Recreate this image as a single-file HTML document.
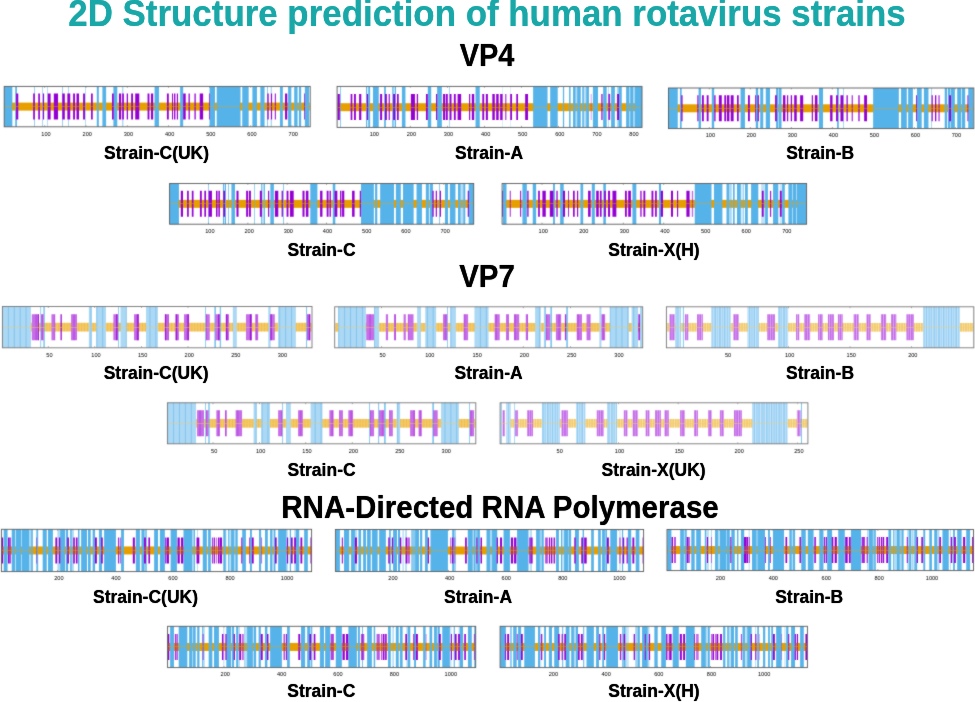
<!DOCTYPE html>
<html lang="en"><head><meta charset="utf-8"><title>2D Structure prediction of human rotavirus strains</title>
<style>
html,body{margin:0;padding:0;background:#fff;}
body{width:975px;height:702px;position:relative;overflow:hidden;font-family:"Liberation Sans",Arial,sans-serif;}
svg{position:absolute;left:0;top:0;}
svg text{font-family:"Liberation Sans",Arial,sans-serif;font-size:5.6px;fill:#000;text-anchor:middle;}
.t{position:absolute;white-space:nowrap;font-weight:bold;color:#000;line-height:1;transform:translateX(-50%);text-shadow:0 0 0.8px currentColor;}
.title{color:#19a7a7;font-size:36px;transform:translateX(-50%) scaleX(0.969);}
.h{font-size:29.2px;transform:translateX(-50%) scale(0.991,1.05);transform-origin:50% 100%;}
.h2{font-size:29.3px;transform:translateX(-50%) scale(1.009,1.05);transform-origin:50% 100%;}
.h7{font-size:29.2px;transform:translateX(-50%) scale(1.008,1.05);transform-origin:50% 100%;}
.l{font-size:17.5px;}
</style></head><body>
<svg width="975" height="702" viewBox="0 0 975 702">
<defs>
<pattern id="pw" width="2.46" height="10" patternUnits="userSpaceOnUse"><rect width="0.6" height="10" fill="#fff" opacity="0.55"/></pattern>
<pattern id="pd" width="5.9" height="10" patternUnits="userSpaceOnUse"><rect x="2" width="0.7" height="10" fill="#4aa6e6" opacity="0.6"/></pattern>
<pattern id="pp" width="6.3" height="10" patternUnits="userSpaceOnUse"><rect x="4.2" width="0.8" height="10" fill="#9400d3" opacity="0.5"/></pattern>
<pattern id="pd2" width="4.3" height="10" patternUnits="userSpaceOnUse"><rect x="1.2" width="1.1" height="10" fill="#6cbcee" opacity="0.55"/></pattern>
<pattern id="po" width="2.9" height="10" patternUnits="userSpaceOnUse"><rect width="0.6" height="10" fill="#e39c00" opacity="0.45"/></pattern>
<filter id="soft" filterUnits="userSpaceOnUse" x="0" y="0" width="975" height="702" color-interpolation-filters="sRGB"><feConvolveMatrix order="3" kernelMatrix="1 2 1 2 20 2 1 2 1" divisor="32" edgeMode="duplicate" preserveAlpha="false"/></filter>
</defs>
<rect width="975" height="702" fill="#fff"/>
<g filter="url(#soft)">
<g>
<rect x="4.2" y="86.4" width="306" height="40.4" fill="#fff"/>
<rect x="44.5" y="86.4" width="0.6" height="1.4" fill="#777"/><rect x="44.5" y="125.2" width="0.6" height="1.4" fill="#777"/>
<rect x="85.7" y="86.4" width="0.6" height="1.4" fill="#777"/><rect x="85.7" y="125.2" width="0.6" height="1.4" fill="#777"/>
<rect x="126.9" y="86.4" width="0.6" height="1.4" fill="#777"/><rect x="126.9" y="125.2" width="0.6" height="1.4" fill="#777"/>
<rect x="168.1" y="86.4" width="0.6" height="1.4" fill="#777"/><rect x="168.1" y="125.2" width="0.6" height="1.4" fill="#777"/>
<rect x="209.3" y="86.4" width="0.6" height="1.4" fill="#777"/><rect x="209.3" y="125.2" width="0.6" height="1.4" fill="#777"/>
<rect x="250.5" y="86.4" width="0.6" height="1.4" fill="#777"/><rect x="250.5" y="125.2" width="0.6" height="1.4" fill="#777"/>
<rect x="291.7" y="86.4" width="0.6" height="1.4" fill="#777"/><rect x="291.7" y="125.2" width="0.6" height="1.4" fill="#777"/>
<rect x="4.8" y="102.6" width="304.8" height="8" fill="#e79f00"/>
<path d="M4.23 86.4h8.12v40.4h-8.12zM15.23 86.4h1.69v40.4h-1.69zM34.14 86.4h0.59v40.4h-0.59zM42.22 86.4h0.51v40.4h-0.51zM47.09 86.4h0.42v40.4h-0.42zM62.07 86.4h0.59v40.4h-0.59zM68.29 86.4h0.51v40.4h-0.51zM85.34 86.4h0.42v40.4h-0.42zM96.8 86.4h2.03v40.4h-2.03zM102.39 86.4h3.72v40.4h-3.72zM113.39 86.4h3.89v40.4h-3.89zM122.52 86.4h0.68v40.4h-0.68zM154.57 86.4h4.4v40.4h-4.4zM180.12 86.4h3.05v40.4h-3.05zM209.57 86.4h5.42v40.4h-5.42zM216.68 86.4h23.86v40.4h-23.86zM242.23 86.4h6.43v40.4h-6.43zM252.39 86.4h4.57v40.4h-4.57zM260.34 86.4h4.23v40.4h-4.23zM267.11 86.4h0.68v40.4h-0.68zM270.83 86.4h0.68v40.4h-0.68zM279.97 86.4h2.88v40.4h-2.88zM288.09 86.4h3.22v40.4h-3.22zM294.19 86.4h3.38v40.4h-3.38zM298.93 86.4h2.2v40.4h-2.2zM304.85 86.4h4.23v40.4h-4.23z" fill="#56b3e9"/>
<path d="M16.08 93.6h2.2v26h-2.2zM33.17 93.6h1.69v26h-1.69zM38.25 93.6h1.69v26h-1.69zM42.92 93.6h1.15v26h-1.15zM47.72 93.6h2.88v26h-2.88zM53.82 93.6h4.23v26h-4.23zM62.28 93.6h2.54v26h-2.54zM67.35 93.6h2.88v26h-2.88zM73.11 93.6h1.86v26h-1.86zM76.49 93.6h2.54v26h-2.54zM83.09 93.6h1.86v26h-1.86zM91.05 93.6h1.69v26h-1.69zM112.03 93.6h1.69v26h-1.69zM118.97 93.6h2.2v26h-2.2zM122.19 93.6h1.69v26h-1.69zM126.7 93.6h1.29v26h-1.29zM131.16 93.6h1.86v26h-1.86zM135.22 93.6h4.06v26h-4.06zM147.57 93.6h1.86v26h-1.86zM150.96 93.6h2.2v26h-2.2zM166.92 93.6h1.86v26h-1.86zM172 93.6h1.02v26h-1.02zM174.03 93.6h1.35v26h-1.35zM176.84 93.6h1.15v26h-1.15zM183.17 93.6h2.54v26h-2.54zM188.53 93.6h1.29v26h-1.29zM194.45 93.6h1.29v26h-1.29zM199.75 93.6h3.38v26h-3.38zM208.96 93.6h0.72v26h-0.72zM267.39 93.6h1.29v26h-1.29zM270.93 93.6h1.15v26h-1.15zM274.81 93.6h1.01v26h-1.01zM285.05 93.6h2.2v26h-2.2zM304.07 93.6h0.72v26h-0.72z" fill="#9400d3"/>
<path d="M16.08 102.6h2.2v8h-2.2zM33.17 102.6h1.69v8h-1.69zM38.25 102.6h1.69v8h-1.69zM42.92 102.6h1.15v8h-1.15zM47.72 102.6h2.88v8h-2.88zM53.82 102.6h4.23v8h-4.23zM62.28 102.6h2.54v8h-2.54zM67.35 102.6h2.88v8h-2.88zM73.11 102.6h1.86v8h-1.86zM76.49 102.6h2.54v8h-2.54zM83.09 102.6h1.86v8h-1.86zM91.05 102.6h1.69v8h-1.69zM112.03 102.6h1.69v8h-1.69zM118.97 102.6h2.2v8h-2.2zM122.19 102.6h1.69v8h-1.69zM126.7 102.6h1.29v8h-1.29zM131.16 102.6h1.86v8h-1.86zM135.22 102.6h4.06v8h-4.06zM147.57 102.6h1.86v8h-1.86zM150.96 102.6h2.2v8h-2.2zM166.92 102.6h1.86v8h-1.86zM172 102.6h1.02v8h-1.02zM174.03 102.6h1.35v8h-1.35zM176.84 102.6h1.15v8h-1.15zM183.17 102.6h2.54v8h-2.54zM188.53 102.6h1.29v8h-1.29zM194.45 102.6h1.29v8h-1.29zM199.75 102.6h3.38v8h-3.38zM208.96 102.6h0.72v8h-0.72zM267.39 102.6h1.29v8h-1.29zM270.93 102.6h1.15v8h-1.15zM274.81 102.6h1.01v8h-1.01zM285.05 102.6h2.2v8h-2.2zM304.07 102.6h0.72v8h-0.72z" fill="#e79f00" opacity="0.04"/>
<rect x="4.2" y="106.22" width="306" height="0.56" fill="#e79f00" opacity="0.8"/>
<rect x="4.2" y="86.4" width="306" height="40.4" fill="none" stroke="#5a5a5a" stroke-width="0.9"/>
<text x="46" y="135.9">100</text>
<text x="87.2" y="135.9">200</text>
<text x="128.4" y="135.9">300</text>
<text x="169.6" y="135.9">400</text>
<text x="210.8" y="135.9">500</text>
<text x="252" y="135.9">600</text>
<text x="293.2" y="135.9">700</text>
</g>
<g>
<rect x="337.1" y="86.4" width="304.9" height="41" fill="#fff"/>
<rect x="372.8" y="86.4" width="0.6" height="1.4" fill="#777"/><rect x="372.8" y="125.8" width="0.6" height="1.4" fill="#777"/>
<rect x="409.9" y="86.4" width="0.6" height="1.4" fill="#777"/><rect x="409.9" y="125.8" width="0.6" height="1.4" fill="#777"/>
<rect x="447" y="86.4" width="0.6" height="1.4" fill="#777"/><rect x="447" y="125.8" width="0.6" height="1.4" fill="#777"/>
<rect x="484.1" y="86.4" width="0.6" height="1.4" fill="#777"/><rect x="484.1" y="125.8" width="0.6" height="1.4" fill="#777"/>
<rect x="521.2" y="86.4" width="0.6" height="1.4" fill="#777"/><rect x="521.2" y="125.8" width="0.6" height="1.4" fill="#777"/>
<rect x="558.3" y="86.4" width="0.6" height="1.4" fill="#777"/><rect x="558.3" y="125.8" width="0.6" height="1.4" fill="#777"/>
<rect x="595.4" y="86.4" width="0.6" height="1.4" fill="#777"/><rect x="595.4" y="125.8" width="0.6" height="1.4" fill="#777"/>
<rect x="632.5" y="86.4" width="0.6" height="1.4" fill="#777"/><rect x="632.5" y="125.8" width="0.6" height="1.4" fill="#777"/>
<rect x="337.7" y="103.2" width="303.7" height="8" fill="#e79f00"/>
<path d="M340.15 86.4h0.68v41h-0.68zM366.05 86.4h1.18v41h-1.18zM368.25 86.4h1.86v41h-1.86zM372.99 86.4h5.75v41h-5.75zM384.15 86.4h1.69v41h-1.69zM392.28 86.4h1.35v41h-1.35zM394.65 86.4h1.35v41h-1.35zM401.92 86.4h3.55v41h-3.55zM427.82 86.4h3.38v41h-3.38zM437.12 86.4h4.74v41h-4.74zM449.06 86.4h0.51v41h-0.51zM475.54 86.4h4.23v41h-4.23zM533.11 86.4h14.44v41h-14.44zM550.18 86.4h7.55v41h-7.55zM562.9 86.4h1.23v41h-1.23zM569.1 86.4h1.48v41h-1.48zM573.04 86.4h2.63v41h-2.63zM577.14 86.4h3.61v41h-3.61zM582.23 86.4h1.64v41h-1.64zM586.17 86.4h2.79v41h-2.79zM592.9 86.4h5.09v41h-5.09zM603.15 86.4h3.53v41h-3.53zM611.11 86.4h3.77v41h-3.77zM618.33 86.4h3.45v41h-3.45zM626.13 86.4h2.87v41h-2.87zM630.23 86.4h2.87v41h-2.87zM634.74 86.4h7.22v41h-7.22z" fill="#56b3e9"/>
<path d="M575.91 86.4h0.98v41h-0.98zM584.28 86.4h1.64v41h-1.64zM608.08 86.4h0.82v41h-0.82zM616.86 86.4h1.07v41h-1.07zM629 86.4h1.23v41h-1.23zM633.1 86.4h1.64v41h-1.64z" fill="#56b3e9" opacity="0.5"/>
<path d="M502.18 86.4h0.66v41h-0.66zM510.14 86.4h0.66v41h-0.66z" fill="#56b3e9" opacity="0.3"/>
<path d="M337.62 93.9h2.2v26h-2.2zM350.65 93.9h1.69v26h-1.69zM354.03 93.9h1.86v26h-1.86zM359.11 93.9h2.2v26h-2.2zM366.84 93.9h1.29v26h-1.29zM380.09 93.9h2.03v26h-2.03zM385 93.9h1.86v26h-1.86zM388.66 93.9h1.15v26h-1.15zM393.12 93.9h2.03v26h-2.03zM397.02 93.9h1.69v26h-1.69zM410.89 93.9h4.06v26h-4.06zM416.76 93.9h1.29v26h-1.29zM425.96 93.9h1.86v26h-1.86zM436.04 93.9h1.15v26h-1.15zM443.05 93.9h2.03v26h-2.03zM445.76 93.9h2.03v26h-2.03zM449.65 93.9h1.86v26h-1.86zM453.88 93.9h1.86v26h-1.86zM457.6 93.9h3.55v26h-3.55zM469.04 93.9h1.15v26h-1.15zM471.82 93.9h2.37v26h-2.37zM482.31 93.9h1.86v26h-1.86zM485.86 93.9h2.03v26h-2.03zM487 93.9h0.82v26h-0.82zM492.33 93.9h2.46v26h-2.46zM496.19 93.9h2.46v26h-2.46zM500.13 93.9h2.46v26h-2.46zM510.22 93.9h1.81v26h-1.81zM516.29 93.9h1.72v26h-1.72zM525.15 93.9h2.87v26h-2.87zM617.1 93.9h1.89v26h-1.89z" fill="#9400d3"/>
<path d="M608.32 93.9h1.81v26h-1.81z" fill="#9400d3" opacity="0.9"/>
<path d="M601.1 93.9h1.64v26h-1.64z" fill="#9400d3" opacity="0.75"/>
<path d="M505.05 93.9h1.39v26h-1.39z" fill="#9400d3" opacity="0.7"/>
<path d="M590.6 93.9h1.31v26h-1.31z" fill="#9400d3" opacity="0.3"/>
<path d="M337.62 103.2h2.2v8h-2.2zM350.65 103.2h1.69v8h-1.69zM354.03 103.2h1.86v8h-1.86zM359.11 103.2h2.2v8h-2.2zM366.84 103.2h1.29v8h-1.29zM380.09 103.2h2.03v8h-2.03zM385 103.2h1.86v8h-1.86zM388.66 103.2h1.15v8h-1.15zM393.12 103.2h2.03v8h-2.03zM397.02 103.2h1.69v8h-1.69zM410.89 103.2h4.06v8h-4.06zM416.76 103.2h1.29v8h-1.29zM425.96 103.2h1.86v8h-1.86zM436.04 103.2h1.15v8h-1.15zM443.05 103.2h2.03v8h-2.03zM445.76 103.2h2.03v8h-2.03zM449.65 103.2h1.86v8h-1.86zM453.88 103.2h1.86v8h-1.86zM457.6 103.2h3.55v8h-3.55zM469.04 103.2h1.15v8h-1.15zM471.82 103.2h2.37v8h-2.37zM482.31 103.2h1.86v8h-1.86zM485.86 103.2h2.03v8h-2.03zM487 103.2h0.82v8h-0.82zM492.33 103.2h2.46v8h-2.46zM496.19 103.2h2.46v8h-2.46zM500.13 103.2h2.46v8h-2.46zM505.05 103.2h1.39v8h-1.39zM510.22 103.2h1.81v8h-1.81zM516.29 103.2h1.72v8h-1.72zM525.15 103.2h2.87v8h-2.87zM590.6 103.2h1.31v8h-1.31zM601.1 103.2h1.64v8h-1.64zM608.32 103.2h1.81v8h-1.81zM617.1 103.2h1.89v8h-1.89z" fill="#e79f00" opacity="0.04"/>
<rect x="337.1" y="107.22" width="304.9" height="0.56" fill="#e79f00" opacity="0.8"/>
<rect x="337.1" y="86.4" width="304.9" height="41" fill="none" stroke="#5a5a5a" stroke-width="0.9"/>
<text x="374.3" y="135.9">100</text>
<text x="411.4" y="135.9">200</text>
<text x="448.5" y="135.9">300</text>
<text x="485.6" y="135.9">400</text>
<text x="522.7" y="135.9">500</text>
<text x="559.8" y="135.9">600</text>
<text x="596.9" y="135.9">700</text>
<text x="634" y="135.9">800</text>
</g>
<g>
<rect x="668.5" y="88" width="305.3" height="40.6" fill="#fff"/>
<rect x="708.9" y="88" width="0.6" height="1.4" fill="#777"/><rect x="708.9" y="127" width="0.6" height="1.4" fill="#777"/>
<rect x="749.9" y="88" width="0.6" height="1.4" fill="#777"/><rect x="749.9" y="127" width="0.6" height="1.4" fill="#777"/>
<rect x="790.9" y="88" width="0.6" height="1.4" fill="#777"/><rect x="790.9" y="127" width="0.6" height="1.4" fill="#777"/>
<rect x="831.9" y="88" width="0.6" height="1.4" fill="#777"/><rect x="831.9" y="127" width="0.6" height="1.4" fill="#777"/>
<rect x="872.9" y="88" width="0.6" height="1.4" fill="#777"/><rect x="872.9" y="127" width="0.6" height="1.4" fill="#777"/>
<rect x="913.9" y="88" width="0.6" height="1.4" fill="#777"/><rect x="913.9" y="127" width="0.6" height="1.4" fill="#777"/>
<rect x="954.9" y="88" width="0.6" height="1.4" fill="#777"/><rect x="954.9" y="127" width="0.6" height="1.4" fill="#777"/>
<rect x="669.1" y="104.3" width="304.1" height="8" fill="#e79f00"/>
<path d="M668.5 88h9.27v40.6h-9.27zM679.97 88h1.69v40.6h-1.69zM698.59 88h2.37v40.6h-2.37zM711.79 88h2.37v40.6h-2.37zM740.56 88h4.4v40.6h-4.4zM755.79 88h2.37v40.6h-2.37zM760.19 88h3.05v40.6h-3.05zM765.77 88h4.23v40.6h-4.23zM776.09 88h2.37v40.6h-2.37zM778.97 88h2.54v40.6h-2.54zM818.97 88h4.06v40.6h-4.06zM837.08 88h1.69v40.6h-1.69zM843.09 88h0.51v40.6h-0.51zM873.12 88h25.72v40.6h-25.72zM901.05 88h5.75v40.6h-5.75zM908.16 88h4.74v40.6h-4.74zM916.96 88h4.74v40.6h-4.74zM923.89 88h4.57v40.6h-4.57zM931.09 88h0.51v40.6h-0.51zM944.71 88h2.37v40.6h-2.37zM947.93 88h2.54v40.6h-2.54zM950.97 88h3.89v40.6h-3.89zM957.23 88h3.89v40.6h-3.89zM961.8 88h3.38v40.6h-3.38zM968.23 88h5.08v40.6h-5.08z" fill="#56b3e9"/>
<path d="M681.27 95.3h1.29v26h-1.29zM697.33 95.3h1.15v26h-1.15zM701.97 95.3h1.86v26h-1.86zM706.71 95.3h1.86v26h-1.86zM714.27 95.3h1.29v26h-1.29zM718.89 95.3h2.88v26h-2.88zM724.31 95.3h1.69v26h-1.69zM726.85 95.3h2.54v26h-2.54zM730.74 95.3h2.88v26h-2.88zM737 95.3h1.69v26h-1.69zM748 95.3h1.86v26h-1.86zM755.19 95.3h0.86v26h-0.86zM757.59 95.3h1.29v26h-1.29zM775.08 95.3h1.69v26h-1.69zM783.03 95.3h2.37v26h-2.37zM787.03 95.3h1.15v26h-1.15zM790.76 95.3h1.29v26h-1.29zM794.2 95.3h2.54v26h-2.54zM800.13 95.3h3.05v26h-3.05zM811.79 95.3h1.15v26h-1.15zM814.91 95.3h2.54v26h-2.54zM830.14 95.3h2.37v26h-2.37zM836.06 95.3h1.86v26h-1.86zM840.46 95.3h2.88v26h-2.88zM846.5 95.3h1.29v26h-1.29zM851.72 95.3h1.01v26h-1.01zM858.35 95.3h1.29v26h-1.29zM864.15 95.3h2.88v26h-2.88zM916.02 95.3h0.86v26h-0.86zM931.61 95.3h1.15v26h-1.15zM935.01 95.3h1.29v26h-1.29zM938.54 95.3h1.01v26h-1.01zM949.11 95.3h1.86v26h-1.86zM967.46 95.3h0.86v26h-0.86z" fill="#9400d3"/>
<path d="M681.27 104.3h1.29v8h-1.29zM697.33 104.3h1.15v8h-1.15zM701.97 104.3h1.86v8h-1.86zM706.71 104.3h1.86v8h-1.86zM714.27 104.3h1.29v8h-1.29zM718.89 104.3h2.88v8h-2.88zM724.31 104.3h1.69v8h-1.69zM726.85 104.3h2.54v8h-2.54zM730.74 104.3h2.88v8h-2.88zM737 104.3h1.69v8h-1.69zM748 104.3h1.86v8h-1.86zM755.19 104.3h0.86v8h-0.86zM757.59 104.3h1.29v8h-1.29zM775.08 104.3h1.69v8h-1.69zM783.03 104.3h2.37v8h-2.37zM787.03 104.3h1.15v8h-1.15zM790.76 104.3h1.29v8h-1.29zM794.2 104.3h2.54v8h-2.54zM800.13 104.3h3.05v8h-3.05zM811.79 104.3h1.15v8h-1.15zM814.91 104.3h2.54v8h-2.54zM830.14 104.3h2.37v8h-2.37zM836.06 104.3h1.86v8h-1.86zM840.46 104.3h2.88v8h-2.88zM846.5 104.3h1.29v8h-1.29zM851.72 104.3h1.01v8h-1.01zM858.35 104.3h1.29v8h-1.29zM864.15 104.3h2.88v8h-2.88zM916.02 104.3h0.86v8h-0.86zM931.61 104.3h1.15v8h-1.15zM935.01 104.3h1.29v8h-1.29zM938.54 104.3h1.01v8h-1.01zM949.11 104.3h1.86v8h-1.86zM967.46 104.3h0.86v8h-0.86z" fill="#e79f00" opacity="0.04"/>
<rect x="668.5" y="108.22" width="305.3" height="0.56" fill="#e79f00" opacity="0.8"/>
<rect x="668.5" y="88" width="305.3" height="40.6" fill="none" stroke="#5a5a5a" stroke-width="0.9"/>
<text x="710.4" y="137.2">100</text>
<text x="751.4" y="137.2">200</text>
<text x="792.4" y="137.2">300</text>
<text x="833.4" y="137.2">400</text>
<text x="874.4" y="137.2">500</text>
<text x="915.4" y="137.2">600</text>
<text x="956.4" y="137.2">700</text>
</g>
<g>
<rect x="169.6" y="183.5" width="304.1" height="40.7" fill="#fff"/>
<rect x="208.4" y="183.5" width="0.6" height="1.4" fill="#777"/><rect x="208.4" y="222.6" width="0.6" height="1.4" fill="#777"/>
<rect x="247.6" y="183.5" width="0.6" height="1.4" fill="#777"/><rect x="247.6" y="222.6" width="0.6" height="1.4" fill="#777"/>
<rect x="286.8" y="183.5" width="0.6" height="1.4" fill="#777"/><rect x="286.8" y="222.6" width="0.6" height="1.4" fill="#777"/>
<rect x="326" y="183.5" width="0.6" height="1.4" fill="#777"/><rect x="326" y="222.6" width="0.6" height="1.4" fill="#777"/>
<rect x="365.2" y="183.5" width="0.6" height="1.4" fill="#777"/><rect x="365.2" y="222.6" width="0.6" height="1.4" fill="#777"/>
<rect x="404.4" y="183.5" width="0.6" height="1.4" fill="#777"/><rect x="404.4" y="222.6" width="0.6" height="1.4" fill="#777"/>
<rect x="443.6" y="183.5" width="0.6" height="1.4" fill="#777"/><rect x="443.6" y="222.6" width="0.6" height="1.4" fill="#777"/>
<rect x="170.2" y="199.85" width="302.9" height="8" fill="#e79f00"/>
<path d="M169.65 183.5h9.31v40.7h-9.31zM208.19 183.5h0.59v40.7h-0.59zM222.95 183.5h1.02v40.7h-1.02zM224.65 183.5h1.35v40.7h-1.35zM228.03 183.5h0.68v40.7h-0.68zM231.42 183.5h3.55v40.7h-3.55zM254.22 183.5h0.59v40.7h-0.59zM261.2 183.5h1.18v40.7h-1.18zM263.57 183.5h1.35v40.7h-1.35zM270.34 183.5h3.55v40.7h-3.55zM283.2 183.5h0.68v40.7h-0.68zM310.28 183.5h7.11v40.7h-7.11zM332.77 183.5h2.54v40.7h-2.54zM361.03 183.5h12.86v40.7h-12.86zM375.08 183.5h2.2v40.7h-2.2zM380.15 183.5h13.88v40.7h-13.88zM395.89 183.5h4.91v40.7h-4.91zM403 183.5h10.66v40.7h-10.66zM416.54 183.5h5.42v40.7h-5.42zM425.85 183.5h3.05v40.7h-3.05zM429.74 183.5h3.22v40.7h-3.22zM439.22 183.5h0.68v40.7h-0.68zM444.97 183.5h3.05v40.7h-3.05zM449.88 183.5h5.58v40.7h-5.58zM458 183.5h2.71v40.7h-2.71zM463.25 183.5h2.03v40.7h-2.03zM468.66 183.5h5.04v40.7h-5.04z" fill="#56b3e9"/>
<path d="M461.22 183.5h1.69v40.7h-1.69z" fill="#56b3e9" opacity="0.5"/>
<path d="M180.82 190.85h2.2v26h-2.2zM187.08 190.85h1.69v26h-1.69zM191.82 190.85h1.69v26h-1.69zM199.94 190.85h1.86v26h-1.86zM204.34 190.85h1.69v26h-1.69zM208.57 190.85h3.38v26h-3.38zM216.02 190.85h1.52v26h-1.52zM218.39 190.85h1.52v26h-1.52zM223.29 190.85h1.69v26h-1.69zM236.49 190.85h2.03v26h-2.03zM246.14 190.85h2.03v26h-2.03zM249.02 190.85h1.86v26h-1.86zM259.85 190.85h2.03v26h-2.03zM268.07 190.85h1.15v26h-1.15zM274.91 190.85h3.38v26h-3.38zM281.62 190.85h1.29v26h-1.29zM286.59 190.85h1.86v26h-1.86zM289.97 190.85h3.72v26h-3.72zM302.49 190.85h2.03v26h-2.03zM305.88 190.85h2.54v26h-2.54zM320.08 190.85h2.37v26h-2.37zM326.68 190.85h1.86v26h-1.86zM329.55 190.85h1.35v26h-1.35zM334.63 190.85h2.71v26h-2.71zM340.05 190.85h1.35v26h-1.35zM342.08 190.85h2.2v26h-2.2zM352.06 190.85h2.54v26h-2.54zM359.78 190.85h1.15v26h-1.15zM432.39 190.85h1.29v26h-1.29zM435.76 190.85h1.15v26h-1.15zM439.83 190.85h1.15v26h-1.15zM467.75 190.85h1.15v26h-1.15z" fill="#9400d3"/>
<path d="M180.82 199.85h2.2v8h-2.2zM187.08 199.85h1.69v8h-1.69zM191.82 199.85h1.69v8h-1.69zM199.94 199.85h1.86v8h-1.86zM204.34 199.85h1.69v8h-1.69zM208.57 199.85h3.38v8h-3.38zM216.02 199.85h1.52v8h-1.52zM218.39 199.85h1.52v8h-1.52zM223.29 199.85h1.69v8h-1.69zM236.49 199.85h2.03v8h-2.03zM246.14 199.85h2.03v8h-2.03zM249.02 199.85h1.86v8h-1.86zM259.85 199.85h2.03v8h-2.03zM268.07 199.85h1.15v8h-1.15zM274.91 199.85h3.38v8h-3.38zM281.62 199.85h1.29v8h-1.29zM286.59 199.85h1.86v8h-1.86zM289.97 199.85h3.72v8h-3.72zM302.49 199.85h2.03v8h-2.03zM305.88 199.85h2.54v8h-2.54zM320.08 199.85h2.37v8h-2.37zM326.68 199.85h1.86v8h-1.86zM329.55 199.85h1.35v8h-1.35zM334.63 199.85h2.71v8h-2.71zM340.05 199.85h1.35v8h-1.35zM342.08 199.85h2.2v8h-2.2zM352.06 199.85h2.54v8h-2.54zM359.78 199.85h1.15v8h-1.15zM432.39 199.85h1.29v8h-1.29zM435.76 199.85h1.15v8h-1.15zM439.83 199.85h1.15v8h-1.15zM467.75 199.85h1.15v8h-1.15z" fill="#e79f00" opacity="0.04"/>
<rect x="169.6" y="203.22" width="304.1" height="0.56" fill="#e79f00" opacity="0.8"/>
<rect x="169.6" y="183.5" width="304.1" height="40.7" fill="none" stroke="#5a5a5a" stroke-width="0.9"/>
<text x="209.9" y="232.9">100</text>
<text x="249.1" y="232.9">200</text>
<text x="288.3" y="232.9">300</text>
<text x="327.5" y="232.9">400</text>
<text x="366.7" y="232.9">500</text>
<text x="405.9" y="232.9">600</text>
<text x="445.1" y="232.9">700</text>
</g>
<g>
<rect x="502.1" y="183.5" width="304.5" height="40.7" fill="#fff"/>
<rect x="541.7" y="183.5" width="0.6" height="1.4" fill="#777"/><rect x="541.7" y="222.6" width="0.6" height="1.4" fill="#777"/>
<rect x="582.3" y="183.5" width="0.6" height="1.4" fill="#777"/><rect x="582.3" y="222.6" width="0.6" height="1.4" fill="#777"/>
<rect x="622.9" y="183.5" width="0.6" height="1.4" fill="#777"/><rect x="622.9" y="222.6" width="0.6" height="1.4" fill="#777"/>
<rect x="663.5" y="183.5" width="0.6" height="1.4" fill="#777"/><rect x="663.5" y="222.6" width="0.6" height="1.4" fill="#777"/>
<rect x="704.1" y="183.5" width="0.6" height="1.4" fill="#777"/><rect x="704.1" y="222.6" width="0.6" height="1.4" fill="#777"/>
<rect x="744.7" y="183.5" width="0.6" height="1.4" fill="#777"/><rect x="744.7" y="222.6" width="0.6" height="1.4" fill="#777"/>
<rect x="785.3" y="183.5" width="0.6" height="1.4" fill="#777"/><rect x="785.3" y="222.6" width="0.6" height="1.4" fill="#777"/>
<rect x="502.7" y="199.85" width="303.3" height="8" fill="#e79f00"/>
<path d="M502.95 183.5h3.55v40.7h-3.55zM522.42 183.5h4.4v40.7h-4.4zM532.74 183.5h3.38v40.7h-3.38zM553.05 183.5h1.86v40.7h-1.86zM560.15 183.5h3.55v40.7h-3.55zM580.46 183.5h2.71v40.7h-2.71zM591.8 183.5h3.05v40.7h-3.05zM603.31 183.5h2.54v40.7h-2.54zM632.42 183.5h3.89v40.7h-3.89zM658.97 183.5h2.03v40.7h-2.03zM694.76 183.5h16.74v40.7h-16.74zM713.96 183.5h8.45v40.7h-8.45zM726.51 183.5h2.46v40.7h-2.46zM733.04 183.5h1.64v40.7h-1.64zM736.97 183.5h3.86v40.7h-3.86zM743.13 183.5h0.57v40.7h-0.57zM745.02 183.5h2.79v40.7h-2.79zM751.09 183.5h7.22v40.7h-7.22zM765.12 183.5h2.79v40.7h-2.79zM773.08 183.5h4.92v40.7h-4.92zM782.1 183.5h2.71v40.7h-2.71zM788.42 183.5h3.69v40.7h-3.69zM792.61 183.5h3.61v40.7h-3.61zM796.71 183.5h9.89v40.7h-9.89z" fill="#56b3e9"/>
<path d="M728.97 183.5h1.03v40.7h-1.03zM730 183.5h1.81v40.7h-1.81zM778.41 183.5h0.82v40.7h-0.82z" fill="#56b3e9" opacity="0.5"/>
<path d="M761.18 183.5h3.69v40.7h-3.69zM780.22 183.5h1.48v40.7h-1.48z" fill="#56b3e9" opacity="0.4"/>
<path d="M741.24 183.5h1.64v40.7h-1.64z" fill="#56b3e9" opacity="0.3"/>
<path d="M502.18 190.85h0.86v26h-0.86zM509.8 190.85h0.86v26h-0.86zM520.14 190.85h1.01v26h-1.01zM527.27 190.85h1.29v26h-1.29zM538.15 190.85h1.69v26h-1.69zM542.39 190.85h3.38v26h-3.38zM549.83 190.85h3.55v26h-3.55zM556.38 190.85h1.29v26h-1.29zM563.03 190.85h2.03v26h-2.03zM568.18 190.85h0.86v26h-0.86zM573.02 190.85h1.69v26h-1.69zM577.01 190.85h1.15v26h-1.15zM588.08 190.85h2.54v26h-2.54zM596.2 190.85h2.54v26h-2.54zM599.92 190.85h1.69v26h-1.69zM604.16 190.85h1.69v26h-1.69zM608.05 190.85h2.03v26h-2.03zM612.45 190.85h3.89v26h-3.89zM624.97 190.85h1.86v26h-1.86zM628.19 190.85h2.71v26h-2.71zM640.32 190.85h1.29v26h-1.29zM643.42 190.85h1.86v26h-1.86zM651.52 190.85h1.86v26h-1.86zM655.08 190.85h1.69v26h-1.69zM660.83 190.85h2.2v26h-2.2zM670.98 190.85h2.03v26h-2.03zM677.01 190.85h1.15v26h-1.15zM686.39 190.85h3.22v26h-3.22zM761.84 190.85h1.81v26h-1.81zM779.89 190.85h1.81v26h-1.81z" fill="#9400d3"/>
<path d="M769.96 190.85h1.23v26h-1.23z" fill="#9400d3" opacity="0.9"/>
<path d="M691.81 190.85h1.31v26h-1.31z" fill="#9400d3" opacity="0.6"/>
<path d="M502.18 199.85h0.86v8h-0.86zM509.8 199.85h0.86v8h-0.86zM520.14 199.85h1.01v8h-1.01zM527.27 199.85h1.29v8h-1.29zM538.15 199.85h1.69v8h-1.69zM542.39 199.85h3.38v8h-3.38zM549.83 199.85h3.55v8h-3.55zM556.38 199.85h1.29v8h-1.29zM563.03 199.85h2.03v8h-2.03zM568.18 199.85h0.86v8h-0.86zM573.02 199.85h1.69v8h-1.69zM577.01 199.85h1.15v8h-1.15zM588.08 199.85h2.54v8h-2.54zM596.2 199.85h2.54v8h-2.54zM599.92 199.85h1.69v8h-1.69zM604.16 199.85h1.69v8h-1.69zM608.05 199.85h2.03v8h-2.03zM612.45 199.85h3.89v8h-3.89zM624.97 199.85h1.86v8h-1.86zM628.19 199.85h2.71v8h-2.71zM640.32 199.85h1.29v8h-1.29zM643.42 199.85h1.86v8h-1.86zM651.52 199.85h1.86v8h-1.86zM655.08 199.85h1.69v8h-1.69zM660.83 199.85h2.2v8h-2.2zM670.98 199.85h2.03v8h-2.03zM677.01 199.85h1.15v8h-1.15zM686.39 199.85h3.22v8h-3.22zM691.81 199.85h1.31v8h-1.31zM761.84 199.85h1.81v8h-1.81zM769.96 199.85h1.23v8h-1.23zM779.89 199.85h1.81v8h-1.81z" fill="#e79f00" opacity="0.04"/>
<rect x="502.1" y="203.22" width="304.5" height="0.56" fill="#e79f00" opacity="0.8"/>
<rect x="502.1" y="183.5" width="304.5" height="40.7" fill="none" stroke="#5a5a5a" stroke-width="0.9"/>
<text x="543.2" y="232.9">100</text>
<text x="583.8" y="232.9">200</text>
<text x="624.4" y="232.9">300</text>
<text x="665" y="232.9">400</text>
<text x="705.6" y="232.9">500</text>
<text x="746.2" y="232.9">600</text>
<text x="786.8" y="232.9">700</text>
</g>
<g>
<rect x="2.4" y="306.5" width="309.6" height="41.3" fill="#fff"/>
<rect x="47.9" y="306.5" width="0.6" height="1.4" fill="#777"/><rect x="47.9" y="346.2" width="0.6" height="1.4" fill="#777"/>
<rect x="94.5" y="306.5" width="0.6" height="1.4" fill="#777"/><rect x="94.5" y="346.2" width="0.6" height="1.4" fill="#777"/>
<rect x="141.1" y="306.5" width="0.6" height="1.4" fill="#777"/><rect x="141.1" y="346.2" width="0.6" height="1.4" fill="#777"/>
<rect x="187.7" y="306.5" width="0.6" height="1.4" fill="#777"/><rect x="187.7" y="346.2" width="0.6" height="1.4" fill="#777"/>
<rect x="234.3" y="306.5" width="0.6" height="1.4" fill="#777"/><rect x="234.3" y="346.2" width="0.6" height="1.4" fill="#777"/>
<rect x="280.9" y="306.5" width="0.6" height="1.4" fill="#777"/><rect x="280.9" y="346.2" width="0.6" height="1.4" fill="#777"/>
<rect x="3" y="322.8" width="308.4" height="8.7" fill="#f4c866"/>
<rect x="3" y="322.8" width="308.4" height="8.7" fill="url(#po)"/>
<path d="M27.08 306.5h1.02v41.3h-1.02zM40.28 306.5h0.85v41.3h-0.85zM43.32 306.5h1.52v41.3h-1.52zM118.12 306.5h0.85v41.3h-0.85zM120.83 306.5h1.18v41.3h-1.18zM205.17 306.5h0.85v41.3h-0.85zM214.31 306.5h1.69v41.3h-1.69zM219.72 306.5h1.35v41.3h-1.35zM306.03 306.5h1.02v41.3h-1.02z" fill="#56b3e9" opacity="0.75"/>
<path d="M2.4 306.5h28.57v41.3h-28.57zM88.85 306.5h3.05v41.3h-3.05zM96.12 306.5h9.82v41.3h-9.82zM120.83 306.5h5.92v41.3h-5.92zM146.05 306.5h11.85v41.3h-11.85zM232.92 306.5h3.89v41.3h-3.89zM268.46 306.5h2.2v41.3h-2.2zM278.11 306.5h17.77v41.3h-17.77z" fill="#abd8f4"/>
<path d="M2.4 306.5h28.57v41.3h-28.57zM88.85 306.5h3.05v41.3h-3.05zM96.12 306.5h9.82v41.3h-9.82zM120.83 306.5h5.92v41.3h-5.92zM146.05 306.5h11.85v41.3h-11.85zM232.92 306.5h3.89v41.3h-3.89zM268.46 306.5h2.2v41.3h-2.2zM278.11 306.5h17.77v41.3h-17.77z" fill="url(#pd)"/>
<path d="M31.82 314.15h7.11v26h-7.11zM40.95 314.15h2.71v26h-2.71zM51.45 314.15h3.72v26h-3.72zM71.08 314.15h5.92v26h-5.92zM113.39 314.15h4.23v26h-4.23zM134.03 314.15h4.74v26h-4.74zM164.89 314.15h4.06v26h-4.06zM175.39 314.15h3.55v26h-3.55zM184.02 314.15h5.08v26h-5.08zM205.85 314.15h3.89v26h-3.89zM215.15 314.15h4.57v26h-4.57zM225.82 314.15h3.22v26h-3.22zM245.96 314.15h5.92v26h-5.92zM255.26 314.15h2.88v26h-2.88zM270.32 314.15h4.4v26h-4.4zM307.05 314.15h3.22v26h-3.22z" fill="#c66ee7"/>
<path d="M37.91 314.15h1.02v26h-1.02zM60.42 314.15h1.52v26h-1.52zM116.09 314.15h1.52v26h-1.52zM137.25 314.15h1.52v26h-1.52zM164.89 314.15h1.35v26h-1.35zM175.89 314.15h1.35v26h-1.35zM187.57 314.15h1.35v26h-1.35zM218.2 314.15h1.35v26h-1.35zM225.99 314.15h1.52v26h-1.52zM250.02 314.15h1.52v26h-1.52zM270.32 314.15h1.35v26h-1.35zM308.74 314.15h1.52v26h-1.52z" fill="#9400d3" opacity="0.8"/>
<path d="M31.82 314.15h7.11v26h-7.11zM40.95 314.15h2.71v26h-2.71zM51.45 314.15h3.72v26h-3.72zM71.08 314.15h5.92v26h-5.92zM113.39 314.15h4.23v26h-4.23zM134.03 314.15h4.74v26h-4.74zM164.89 314.15h4.06v26h-4.06zM175.39 314.15h3.55v26h-3.55zM184.02 314.15h5.08v26h-5.08zM205.85 314.15h3.89v26h-3.89zM215.15 314.15h4.57v26h-4.57zM225.82 314.15h3.22v26h-3.22zM245.96 314.15h5.92v26h-5.92zM255.26 314.15h2.88v26h-2.88zM270.32 314.15h4.4v26h-4.4zM307.05 314.15h3.22v26h-3.22z" fill="url(#pp)"/>
<path d="M31.82 322.8h7.11v8.7h-7.11zM40.95 322.8h2.71v8.7h-2.71zM51.45 322.8h3.72v8.7h-3.72zM71.08 322.8h5.92v8.7h-5.92zM113.39 322.8h4.23v8.7h-4.23zM134.03 322.8h4.74v8.7h-4.74zM164.89 322.8h4.06v8.7h-4.06zM175.39 322.8h3.55v8.7h-3.55zM184.02 322.8h5.08v8.7h-5.08zM205.85 322.8h3.89v8.7h-3.89zM215.15 322.8h4.57v8.7h-4.57zM225.82 322.8h3.22v8.7h-3.22zM245.96 322.8h5.92v8.7h-5.92zM255.26 322.8h2.88v8.7h-2.88zM270.32 322.8h4.4v8.7h-4.4zM307.05 322.8h3.22v8.7h-3.22z" fill="#f4c866" opacity="0.04"/>
<rect x="2.4" y="327.22" width="309.6" height="0.56" fill="#f4c866" opacity="0.8"/>
<rect x="2.4" y="306.5" width="309.6" height="41.3" fill="none" stroke="#777" stroke-width="0.9"/>
<text x="49.4" y="357">50</text>
<text x="96" y="357">100</text>
<text x="142.6" y="357">150</text>
<text x="189.2" y="357">200</text>
<text x="235.8" y="357">250</text>
<text x="282.4" y="357">300</text>
</g>
<g>
<rect x="334.7" y="306.8" width="308" height="41" fill="#fff"/>
<rect x="381" y="306.8" width="0.6" height="1.4" fill="#777"/><rect x="381" y="346.2" width="0.6" height="1.4" fill="#777"/>
<rect x="428.3" y="306.8" width="0.6" height="1.4" fill="#777"/><rect x="428.3" y="346.2" width="0.6" height="1.4" fill="#777"/>
<rect x="475.6" y="306.8" width="0.6" height="1.4" fill="#777"/><rect x="475.6" y="346.2" width="0.6" height="1.4" fill="#777"/>
<rect x="522.9" y="306.8" width="0.6" height="1.4" fill="#777"/><rect x="522.9" y="346.2" width="0.6" height="1.4" fill="#777"/>
<rect x="570.2" y="306.8" width="0.6" height="1.4" fill="#777"/><rect x="570.2" y="346.2" width="0.6" height="1.4" fill="#777"/>
<rect x="617.5" y="306.8" width="0.6" height="1.4" fill="#777"/><rect x="617.5" y="346.2" width="0.6" height="1.4" fill="#777"/>
<rect x="335.3" y="322.95" width="306.8" height="8.7" fill="#f4c866"/>
<rect x="335.3" y="322.95" width="306.8" height="8.7" fill="url(#po)"/>
<path d="M447.11 306.8h0.85v41h-0.85zM550.32 306.8h1.69v41h-1.69zM566.23 306.8h1.69v41h-1.69z" fill="#56b3e9" opacity="0.75"/>
<path d="M338.12 306.8h27.75v41h-27.75zM374 306.8h5.08v41h-5.08zM417.16 306.8h3.72v41h-3.72zM425.28 306.8h10.83v41h-10.83zM450.16 306.8h5.75v41h-5.75zM474.69 306.8h13.88v41h-13.88zM535.09 306.8h5.75v41h-5.75zM543.89 306.8h2.03v41h-2.03zM599.4 306.8h2.03v41h-2.03zM609.72 306.8h19.12v41h-19.12zM631.56 306.8h6.6v41h-6.6zM640.02 306.8h2.37v41h-2.37z" fill="#abd8f4"/>
<path d="M338.12 306.8h27.75v41h-27.75zM374 306.8h5.08v41h-5.08zM417.16 306.8h3.72v41h-3.72zM425.28 306.8h10.83v41h-10.83zM450.16 306.8h5.75v41h-5.75zM474.69 306.8h13.88v41h-13.88zM535.09 306.8h5.75v41h-5.75zM543.89 306.8h2.03v41h-2.03zM599.4 306.8h2.03v41h-2.03zM609.72 306.8h19.12v41h-19.12zM631.56 306.8h6.6v41h-6.6zM640.02 306.8h2.37v41h-2.37z" fill="url(#pd)"/>
<path d="M366.22 314.3h7.78v26h-7.78zM385.85 314.3h2.2v26h-2.2zM393.97 314.3h2.03v26h-2.03zM403.62 314.3h2.2v26h-2.2zM407.85 314.3h5.58v26h-5.58zM443.05 314.3h4.23v26h-4.23zM463.69 314.3h4.4v26h-4.4zM494.65 314.3h5.08v26h-5.08zM505.98 314.3h2.88v26h-2.88zM513.94 314.3h5.25v26h-5.25zM525.79 314.3h2.2v26h-2.2zM545.92 314.3h4.23v26h-4.23zM555.91 314.3h5.25v26h-5.25zM576.72 314.3h5.25v26h-5.25zM586.54 314.3h3.89v26h-3.89zM601.43 314.3h3.72v26h-3.72z" fill="#c66ee7"/>
<path d="M564.88 314.3h1.35v26h-1.35zM638.33 314.3h1.69v26h-1.69z" fill="#9400d3" opacity="0.8"/>
<path d="M366.22 314.3h7.78v26h-7.78zM385.85 314.3h2.2v26h-2.2zM393.97 314.3h2.03v26h-2.03zM403.62 314.3h2.2v26h-2.2zM407.85 314.3h5.58v26h-5.58zM443.05 314.3h4.23v26h-4.23zM463.69 314.3h4.4v26h-4.4zM494.65 314.3h5.08v26h-5.08zM505.98 314.3h2.88v26h-2.88zM513.94 314.3h5.25v26h-5.25zM525.79 314.3h2.2v26h-2.2zM545.92 314.3h4.23v26h-4.23zM555.91 314.3h5.25v26h-5.25zM576.72 314.3h5.25v26h-5.25zM586.54 314.3h3.89v26h-3.89zM601.43 314.3h3.72v26h-3.72z" fill="url(#pp)"/>
<path d="M366.22 322.95h7.78v8.7h-7.78zM385.85 322.95h2.2v8.7h-2.2zM393.97 322.95h2.03v8.7h-2.03zM403.62 322.95h2.2v8.7h-2.2zM407.85 322.95h5.58v8.7h-5.58zM443.05 322.95h4.23v8.7h-4.23zM463.69 322.95h4.4v8.7h-4.4zM494.65 322.95h5.08v8.7h-5.08zM505.98 322.95h2.88v8.7h-2.88zM513.94 322.95h5.25v8.7h-5.25zM525.79 322.95h2.2v8.7h-2.2zM545.92 322.95h4.23v8.7h-4.23zM555.91 322.95h5.25v8.7h-5.25zM576.72 322.95h5.25v8.7h-5.25zM586.54 322.95h3.89v8.7h-3.89zM601.43 322.95h3.72v8.7h-3.72z" fill="#f4c866" opacity="0.04"/>
<rect x="334.7" y="327.22" width="308" height="0.56" fill="#f4c866" opacity="0.8"/>
<rect x="334.7" y="306.8" width="308" height="41" fill="none" stroke="#777" stroke-width="0.9"/>
<text x="382.5" y="357">50</text>
<text x="429.8" y="357">100</text>
<text x="477.1" y="357">150</text>
<text x="524.4" y="357">200</text>
<text x="571.7" y="357">250</text>
<text x="619" y="357">300</text>
</g>
<g>
<rect x="666.4" y="306.8" width="307.4" height="41" fill="#fff"/>
<rect x="726.5" y="306.8" width="0.6" height="1.4" fill="#777"/><rect x="726.5" y="346.2" width="0.6" height="1.4" fill="#777"/>
<rect x="788.1" y="306.8" width="0.6" height="1.4" fill="#777"/><rect x="788.1" y="346.2" width="0.6" height="1.4" fill="#777"/>
<rect x="849.7" y="306.8" width="0.6" height="1.4" fill="#777"/><rect x="849.7" y="346.2" width="0.6" height="1.4" fill="#777"/>
<rect x="911.3" y="306.8" width="0.6" height="1.4" fill="#777"/><rect x="911.3" y="346.2" width="0.6" height="1.4" fill="#777"/>
<rect x="667" y="322.95" width="306.2" height="8.7" fill="#f3cb6e"/>
<path d="M682.85 306.8h1.02v41h-1.02z" fill="#56b3e9" opacity="0.75"/>
<path d="M675.23 306.8h5.58v41h-5.58zM711.28 306.8h19.46v41h-19.46zM747.49 306.8h11.51v41h-11.51zM778.12 306.8h9.98v41h-9.98zM923.05 306.8h36.89v41h-36.89z" fill="#a6d5f4"/>
<path d="M675.23 306.8h5.58v41h-5.58zM711.28 306.8h19.46v41h-19.46zM747.49 306.8h11.51v41h-11.51zM778.12 306.8h9.98v41h-9.98zM923.05 306.8h36.89v41h-36.89z" fill="url(#pd2)"/>
<path d="M669.31 314.3h5.58v26h-5.58zM684.88 314.3h3.38v26h-3.38zM697.06 314.3h5.75v26h-5.75zM733.11 314.3h5.75v26h-5.75zM767.12 314.3h7.78v26h-7.78zM796.06 314.3h3.22v26h-3.22zM804.19 314.3h5.92v26h-5.92zM818.12 314.3h4.57v26h-4.57zM827.94 314.3h5.92v26h-5.92zM837.92 314.3h4.74v26h-4.74zM853.66 314.3h5.08v26h-5.08zM866.35 314.3h4.23v26h-4.23zM880.91 314.3h5.25v26h-5.25zM891.06 314.3h5.25v26h-5.25zM906.46 314.3h7.45v26h-7.45z" fill="#c46ce8"/>
<path d="M669.31 322.95h5.58v8.7h-5.58zM684.88 322.95h3.38v8.7h-3.38zM697.06 322.95h5.75v8.7h-5.75zM733.11 322.95h5.75v8.7h-5.75zM767.12 322.95h7.78v8.7h-7.78zM796.06 322.95h3.22v8.7h-3.22zM804.19 322.95h5.92v8.7h-5.92zM818.12 322.95h4.57v8.7h-4.57zM827.94 322.95h5.92v8.7h-5.92zM837.92 322.95h4.74v8.7h-4.74zM853.66 322.95h5.08v8.7h-5.08zM866.35 322.95h4.23v8.7h-4.23zM880.91 322.95h5.25v8.7h-5.25zM891.06 322.95h5.25v8.7h-5.25zM906.46 322.95h7.45v8.7h-7.45z" fill="#f3cb6e" opacity="0.04"/>
<rect x="666.4" y="306.8" width="307.4" height="41" fill="url(#pw)"/>
<rect x="666.4" y="327.22" width="307.4" height="0.56" fill="#f3cb6e" opacity="0.8"/>
<rect x="666.4" y="306.8" width="307.4" height="41" fill="none" stroke="#777" stroke-width="0.9"/>
<text x="728" y="357">50</text>
<text x="789.6" y="357">100</text>
<text x="851.2" y="357">150</text>
<text x="912.8" y="357">200</text>
</g>
<g>
<rect x="167.4" y="402.8" width="308.4" height="41" fill="#fff"/>
<rect x="212.7" y="402.8" width="0.6" height="1.4" fill="#777"/><rect x="212.7" y="442.2" width="0.6" height="1.4" fill="#777"/>
<rect x="259.1" y="402.8" width="0.6" height="1.4" fill="#777"/><rect x="259.1" y="442.2" width="0.6" height="1.4" fill="#777"/>
<rect x="305.5" y="402.8" width="0.6" height="1.4" fill="#777"/><rect x="305.5" y="442.2" width="0.6" height="1.4" fill="#777"/>
<rect x="351.9" y="402.8" width="0.6" height="1.4" fill="#777"/><rect x="351.9" y="442.2" width="0.6" height="1.4" fill="#777"/>
<rect x="398.3" y="402.8" width="0.6" height="1.4" fill="#777"/><rect x="398.3" y="442.2" width="0.6" height="1.4" fill="#777"/>
<rect x="444.7" y="402.8" width="0.6" height="1.4" fill="#777"/><rect x="444.7" y="442.2" width="0.6" height="1.4" fill="#777"/>
<rect x="168" y="418.95" width="307.2" height="8.7" fill="#f4c866"/>
<rect x="168" y="418.95" width="307.2" height="8.7" fill="url(#po)"/>
<path d="M205.02 402.8h0.85v41h-0.85zM208.23 402.8h1.52v41h-1.52zM282.19 402.8h0.85v41h-0.85zM369.15 402.8h0.85v41h-0.85zM378.12 402.8h1.02v41h-1.02zM384.05 402.8h1.69v41h-1.69zM432.28 402.8h1.69v41h-1.69zM469 402.8h0.85v41h-0.85z" fill="#56b3e9" opacity="0.75"/>
<path d="M167.45 402.8h28.6v41h-28.6zM253.59 402.8h3.22v41h-3.22zM261.2 402.8h8.8v41h-8.8zM286.08 402.8h4.74v41h-4.74zM310.62 402.8h11.85v41h-11.85zM396.74 402.8h3.38v41h-3.38zM441.08 402.8h17.77v41h-17.77z" fill="#abd8f4"/>
<path d="M167.45 402.8h28.6v41h-28.6zM253.59 402.8h3.22v41h-3.22zM261.2 402.8h8.8v41h-8.8zM286.08 402.8h4.74v41h-4.74zM310.62 402.8h11.85v41h-11.85zM396.74 402.8h3.38v41h-3.38zM441.08 402.8h17.77v41h-17.77z" fill="url(#pd)"/>
<path d="M197.06 410.3h6.94v26h-6.94zM206.03 410.3h2.54v26h-2.54zM216.35 410.3h3.55v26h-3.55zM224.99 410.3h1.86v26h-1.86zM235.65 410.3h6.43v26h-6.43zM278.12 410.3h4.23v26h-4.23zM298.09 410.3h4.74v26h-4.74zM329.38 410.3h4.23v26h-4.23zM339.03 410.3h3.89v26h-3.89zM348.34 410.3h4.74v26h-4.74zM370 410.3h4.06v26h-4.06zM378.97 410.3h5.42v26h-5.42zM389.12 410.3h3.72v26h-3.72zM410.11 410.3h4.91v26h-4.91zM418.57 410.3h3.22v26h-3.22zM433.29 410.3h4.4v26h-4.4zM470.02 410.3h4.06v26h-4.06z" fill="#c66ee7"/>
<path d="M197.06 410.3h6.94v26h-6.94zM206.03 410.3h2.54v26h-2.54zM216.35 410.3h3.55v26h-3.55zM224.99 410.3h1.86v26h-1.86zM235.65 410.3h6.43v26h-6.43zM278.12 410.3h4.23v26h-4.23zM298.09 410.3h4.74v26h-4.74zM329.38 410.3h4.23v26h-4.23zM339.03 410.3h3.89v26h-3.89zM348.34 410.3h4.74v26h-4.74zM370 410.3h4.06v26h-4.06zM378.97 410.3h5.42v26h-5.42zM389.12 410.3h3.72v26h-3.72zM410.11 410.3h4.91v26h-4.91zM418.57 410.3h3.22v26h-3.22zM433.29 410.3h4.4v26h-4.4zM470.02 410.3h4.06v26h-4.06z" fill="url(#pp)"/>
<path d="M197.06 418.95h6.94v8.7h-6.94zM206.03 418.95h2.54v8.7h-2.54zM216.35 418.95h3.55v8.7h-3.55zM224.99 418.95h1.86v8.7h-1.86zM235.65 418.95h6.43v8.7h-6.43zM278.12 418.95h4.23v8.7h-4.23zM298.09 418.95h4.74v8.7h-4.74zM329.38 418.95h4.23v8.7h-4.23zM339.03 418.95h3.89v8.7h-3.89zM348.34 418.95h4.74v8.7h-4.74zM370 418.95h4.06v8.7h-4.06zM378.97 418.95h5.42v8.7h-5.42zM389.12 418.95h3.72v8.7h-3.72zM410.11 418.95h4.91v8.7h-4.91zM418.57 418.95h3.22v8.7h-3.22zM433.29 418.95h4.4v8.7h-4.4zM470.02 418.95h4.06v8.7h-4.06z" fill="#f4c866" opacity="0.04"/>
<rect x="167.4" y="423.22" width="308.4" height="0.56" fill="#f4c866" opacity="0.8"/>
<rect x="167.4" y="402.8" width="308.4" height="41" fill="none" stroke="#777" stroke-width="0.9"/>
<text x="214.2" y="453">50</text>
<text x="260.6" y="453">100</text>
<text x="307" y="453">150</text>
<text x="353.4" y="453">200</text>
<text x="399.8" y="453">250</text>
<text x="446.2" y="453">300</text>
</g>
<g>
<rect x="500.1" y="402.8" width="307.8" height="41" fill="#fff"/>
<rect x="558.2" y="402.8" width="0.6" height="1.4" fill="#777"/><rect x="558.2" y="442.2" width="0.6" height="1.4" fill="#777"/>
<rect x="618" y="402.8" width="0.6" height="1.4" fill="#777"/><rect x="618" y="442.2" width="0.6" height="1.4" fill="#777"/>
<rect x="677.8" y="402.8" width="0.6" height="1.4" fill="#777"/><rect x="677.8" y="442.2" width="0.6" height="1.4" fill="#777"/>
<rect x="737.6" y="402.8" width="0.6" height="1.4" fill="#777"/><rect x="737.6" y="442.2" width="0.6" height="1.4" fill="#777"/>
<rect x="797.4" y="402.8" width="0.6" height="1.4" fill="#777"/><rect x="797.4" y="442.2" width="0.6" height="1.4" fill="#777"/>
<rect x="510.3" y="418.95" width="297" height="8.7" fill="#f3cb6e"/>
<path d="M500.8 402.8h1.02v41h-1.02zM514 402.8h1.02v41h-1.02zM800.96 402.8h1.02v41h-1.02z" fill="#56b3e9" opacity="0.75"/>
<path d="M506.22 402.8h4.4v41h-4.4zM541.92 402.8h17.94v41h-17.94zM576.11 402.8h9.31v41h-9.31zM607.25 402.8h9.65v41h-9.65zM752.22 402.8h35.54v41h-35.54z" fill="#a6d5f4"/>
<path d="M506.22 402.8h4.4v41h-4.4zM541.92 402.8h17.94v41h-17.94zM576.11 402.8h9.31v41h-9.31zM607.25 402.8h9.65v41h-9.65zM752.22 402.8h35.54v41h-35.54z" fill="url(#pd2)"/>
<path d="M502.49 410.3h2.54v26h-2.54zM515.18 410.3h2.88v26h-2.88zM527.2 410.3h5.75v26h-5.75zM561.39 410.3h6.43v26h-6.43zM596.76 410.3h6.94v26h-6.94zM623.83 410.3h3.72v26h-3.72zM632.63 410.3h5.42v26h-5.42zM645.66 410.3h3.89v26h-3.89zM655.08 410.3h5.75v26h-5.75zM664.38 410.3h4.4v26h-4.4zM680.12 410.3h4.74v26h-4.74zM694 410.3h3.89v26h-3.89zM708.05 410.3h3.72v26h-3.72zM719.89 410.3h4.06v26h-4.06zM733.94 410.3h7.95v26h-7.95zM796.89 410.3h3.72v26h-3.72z" fill="#c46ce8"/>
<path d="M502.49 418.95h2.54v8.7h-2.54zM515.18 418.95h2.88v8.7h-2.88zM527.2 418.95h5.75v8.7h-5.75zM561.39 418.95h6.43v8.7h-6.43zM596.76 418.95h6.94v8.7h-6.94zM623.83 418.95h3.72v8.7h-3.72zM632.63 418.95h5.42v8.7h-5.42zM645.66 418.95h3.89v8.7h-3.89zM655.08 418.95h5.75v8.7h-5.75zM664.38 418.95h4.4v8.7h-4.4zM680.12 418.95h4.74v8.7h-4.74zM694 418.95h3.89v8.7h-3.89zM708.05 418.95h3.72v8.7h-3.72zM719.89 418.95h4.06v8.7h-4.06zM733.94 418.95h7.95v8.7h-7.95zM796.89 418.95h3.72v8.7h-3.72z" fill="#f3cb6e" opacity="0.04"/>
<rect x="500.1" y="402.8" width="307.8" height="41" fill="url(#pw)"/>
<rect x="500.1" y="423.22" width="307.8" height="0.56" fill="#f3cb6e" opacity="0.8"/>
<rect x="500.1" y="402.8" width="307.8" height="41" fill="none" stroke="#777" stroke-width="0.9"/>
<text x="559.7" y="453">50</text>
<text x="619.5" y="453">100</text>
<text x="679.3" y="453">150</text>
<text x="739.1" y="453">200</text>
<text x="798.9" y="453">250</text>
</g>
<g>
<rect x="1.4" y="529.3" width="310.2" height="42.3" fill="#fff"/>
<rect x="57.4" y="529.3" width="0.6" height="1.4" fill="#777"/><rect x="57.4" y="570" width="0.6" height="1.4" fill="#777"/>
<rect x="114.45" y="529.3" width="0.6" height="1.4" fill="#777"/><rect x="114.45" y="570" width="0.6" height="1.4" fill="#777"/>
<rect x="171.5" y="529.3" width="0.6" height="1.4" fill="#777"/><rect x="171.5" y="570" width="0.6" height="1.4" fill="#777"/>
<rect x="228.55" y="529.3" width="0.6" height="1.4" fill="#777"/><rect x="228.55" y="570" width="0.6" height="1.4" fill="#777"/>
<rect x="285.6" y="529.3" width="0.6" height="1.4" fill="#777"/><rect x="285.6" y="570" width="0.6" height="1.4" fill="#777"/>
<rect x="2" y="546.45" width="309" height="8" fill="#e79f00"/>
<path d="M3.69 529.3h3.86v42.3h-3.86zM11.73 529.3h3.28v42.3h-3.28zM15.59 529.3h5.66v42.3h-5.66zM21.74 529.3h7.38v42.3h-7.38zM31.18 529.3h1.64v42.3h-1.64zM36.1 529.3h0.66v42.3h-0.66zM37.09 529.3h1.07v42.3h-1.07zM42.67 529.3h4.1v42.3h-4.1zM48 529.3h4.92v42.3h-4.92zM60.14 529.3h5.09v42.3h-5.09zM66.05 529.3h2.05v42.3h-2.05zM70.15 529.3h1.64v42.3h-1.64zM78 529.3h0.98v42.3h-0.98zM79.48 529.3h0.49v42.3h-0.49zM81.12 529.3h5.91v42.3h-5.91zM88.01 529.3h2.71v42.3h-2.71zM92.61 529.3h2.46v42.3h-2.46zM98.92 529.3h3.04v42.3h-3.04zM104.09 529.3h11.82v42.3h-11.82zM121.08 529.3h2.87v42.3h-2.87zM135.85 529.3h4.1v42.3h-4.1zM141.43 529.3h2.87v42.3h-2.87zM146.1 529.3h0.66v42.3h-0.66zM154.14 529.3h3.86v42.3h-3.86zM156 529.3h1.81v42.3h-1.81zM159.94 529.3h4.92v42.3h-4.92zM170.61 529.3h6.32v42.3h-6.32zM183.49 529.3h8.62v42.3h-8.62zM193.58 529.3h1.39v42.3h-1.39zM202.77 529.3h4.1v42.3h-4.1zM208.1 529.3h2.71v42.3h-2.71zM223.28 529.3h2.46v42.3h-2.46zM228.04 529.3h0.82v42.3h-0.82zM231.08 529.3h2.87v42.3h-2.87zM235.64 529.3h2.05v42.3h-2.05zM242.21 529.3h3.69v42.3h-3.69zM250 529.3h1.89v42.3h-1.89zM259.03 529.3h2.05v42.3h-2.05zM265.02 529.3h2.79v42.3h-2.79zM270.1 529.3h2.05v42.3h-2.05zM273.96 529.3h1.48v42.3h-1.48zM278.14 529.3h8.37v42.3h-8.37zM289.79 529.3h1.23v42.3h-1.23zM295.95 529.3h3.28v42.3h-3.28zM304.15 529.3h3.69v42.3h-3.69z" fill="#56b3e9"/>
<path d="M144.3 529.3h1.81v42.3h-1.81z" fill="#56b3e9" opacity="0.7"/>
<path d="M29.13 529.3h1.89v42.3h-1.89zM57.44 529.3h2.46v42.3h-2.46zM72.04 529.3h1.81v42.3h-1.81zM192.1 529.3h1.23v42.3h-1.23zM197.03 529.3h0.82v42.3h-0.82zM225.74 529.3h0.66v42.3h-0.66zM228.86 529.3h1.97v42.3h-1.97zM233.95 529.3h2.05v42.3h-2.05zM234 529.3h1.64v42.3h-1.64zM272.15 529.3h1.64v42.3h-1.64zM286.51 529.3h1.23v42.3h-1.23zM294.31 529.3h1.64v42.3h-1.64z" fill="#56b3e9" opacity="0.5"/>
<path d="M1.4 537.45h1.72v26h-1.72zM8.04 537.45h1.64v26h-1.64zM55.38 537.45h1.81v26h-1.81zM58.91 537.45h1.39v26h-1.39zM67.28 537.45h1.64v26h-1.64zM73.27 537.45h1.56v26h-1.56zM75.9 537.45h1.64v26h-1.64zM94.98 537.45h1.89v26h-1.89zM101.14 537.45h1.64v26h-1.64zM117.96 537.45h0.9v26h-0.9zM132.81 537.45h2.05v26h-2.05zM144.05 537.45h1.89v26h-1.89zM148.4 537.45h1.64v26h-1.64zM166.99 537.45h1.97v26h-1.97zM177.5 537.45h2.3v26h-2.3zM181.03 537.45h2.22v26h-2.22zM197.03 537.45h2.3v26h-2.3zM211.96 537.45h0.82v26h-0.82zM213.68 537.45h1.23v26h-1.23zM217.95 537.45h1.23v26h-1.23zM219.59 537.45h2.46v26h-2.46zM251.89 537.45h1.81v26h-1.81zM275.03 537.45h1.64v26h-1.64zM286.92 537.45h1.23v26h-1.23zM291.03 537.45h1.64v26h-1.64zM294.14 537.45h1.81v26h-1.81zM300.46 537.45h1.81v26h-1.81z" fill="#9400d3"/>
<path d="M165.03 537.45h1.64v26h-1.64z" fill="#9400d3" opacity="0.8"/>
<path d="M9.68 537.45h1.39v26h-1.39zM119.68 537.45h1.15v26h-1.15zM240.97 537.45h1.48v26h-1.48zM249.02 537.45h0.98v26h-0.98z" fill="#9400d3" opacity="0.7"/>
<path d="M196.21 537.45h0.82v26h-0.82zM215.9 537.45h0.98v26h-0.98zM261.08 537.45h0.98v26h-0.98zM310.14 537.45h1.39v26h-1.39z" fill="#9400d3" opacity="0.6"/>
<path d="M36.1 537.45h0.98v26h-0.98z" fill="#9400d3" opacity="0.5"/>
<path d="M1.4 546.45h1.72v8h-1.72zM8.04 546.45h1.64v8h-1.64zM9.68 546.45h1.39v8h-1.39zM36.1 546.45h0.98v8h-0.98zM55.38 546.45h1.81v8h-1.81zM58.91 546.45h1.39v8h-1.39zM67.28 546.45h1.64v8h-1.64zM73.27 546.45h1.56v8h-1.56zM75.9 546.45h1.64v8h-1.64zM94.98 546.45h1.89v8h-1.89zM101.14 546.45h1.64v8h-1.64zM117.96 546.45h0.9v8h-0.9zM119.68 546.45h1.15v8h-1.15zM132.81 546.45h2.05v8h-2.05zM144.05 546.45h1.89v8h-1.89zM148.4 546.45h1.64v8h-1.64zM165.03 546.45h1.64v8h-1.64zM166.99 546.45h1.97v8h-1.97zM177.5 546.45h2.3v8h-2.3zM181.03 546.45h2.22v8h-2.22zM196.21 546.45h0.82v8h-0.82zM197.03 546.45h2.3v8h-2.3zM211.96 546.45h0.82v8h-0.82zM213.68 546.45h1.23v8h-1.23zM215.9 546.45h0.98v8h-0.98zM217.95 546.45h1.23v8h-1.23zM219.59 546.45h2.46v8h-2.46zM240.97 546.45h1.48v8h-1.48zM249.02 546.45h0.98v8h-0.98zM251.89 546.45h1.81v8h-1.81zM261.08 546.45h0.98v8h-0.98zM275.03 546.45h1.64v8h-1.64zM286.92 546.45h1.23v8h-1.23zM291.03 546.45h1.64v8h-1.64zM294.14 546.45h1.81v8h-1.81zM300.46 546.45h1.81v8h-1.81zM310.14 546.45h1.39v8h-1.39z" fill="#e79f00" opacity="0.28"/>
<rect x="1.4" y="550.22" width="310.2" height="0.56" fill="#e79f00" opacity="0.8"/>
<rect x="1.4" y="529.3" width="310.2" height="42.3" fill="none" stroke="#5a5a5a" stroke-width="0.9"/>
<text x="58.9" y="580">200</text>
<text x="115.95" y="580">400</text>
<text x="173" y="580">600</text>
<text x="230.05" y="580">800</text>
<text x="287.1" y="580">1000</text>
</g>
<g>
<rect x="335.4" y="529.5" width="308.2" height="42" fill="#fff"/>
<rect x="391.5" y="529.5" width="0.6" height="1.4" fill="#777"/><rect x="391.5" y="569.9" width="0.6" height="1.4" fill="#777"/>
<rect x="448.1" y="529.5" width="0.6" height="1.4" fill="#777"/><rect x="448.1" y="569.9" width="0.6" height="1.4" fill="#777"/>
<rect x="504.7" y="529.5" width="0.6" height="1.4" fill="#777"/><rect x="504.7" y="569.9" width="0.6" height="1.4" fill="#777"/>
<rect x="561.3" y="529.5" width="0.6" height="1.4" fill="#777"/><rect x="561.3" y="569.9" width="0.6" height="1.4" fill="#777"/>
<rect x="617.9" y="529.5" width="0.6" height="1.4" fill="#777"/><rect x="617.9" y="569.9" width="0.6" height="1.4" fill="#777"/>
<rect x="336" y="546.5" width="307" height="8" fill="#e79f00"/>
<path d="M335.81 529.5h4.1v42h-4.1zM344.01 529.5h5.17v42h-5.17zM351.07 529.5h3.86v42h-3.86zM358.45 529.5h2.63v42h-2.63zM363.13 529.5h2.87v42h-2.87zM367.07 529.5h3.69v42h-3.69zM371.91 529.5h5.74v42h-5.74zM379.13 529.5h6.73v42h-6.73zM389.14 529.5h1.64v42h-1.64zM393.08 529.5h3.94v42h-3.94zM398 529.5h2.05v42h-2.05zM415.12 529.5h3.86v42h-3.86zM420.04 529.5h2.22v42h-2.22zM424.96 529.5h2.87v42h-2.87zM430.46 529.5h17.48v42h-17.48zM452.21 529.5h2.05v42h-2.05zM467.79 529.5h4.92v42h-4.92zM473.95 529.5h1.23v42h-1.23zM477.23 529.5h2.71v42h-2.71zM486.5 529.5h3.45v42h-3.45zM492.05 529.5h5.17v42h-5.17zM503.54 529.5h6.4v42h-6.4zM517.08 529.5h11.08v42h-11.08zM536.11 529.5h3.77v42h-3.77zM541.86 529.5h1.89v42h-1.89zM556.05 529.5h2.87v42h-2.87zM560.97 529.5h1.07v42h-1.07zM564.09 529.5h3.86v42h-3.86zM568.98 529.5h2.13v42h-2.13zM574.97 529.5h3.94v42h-3.94zM582.61 529.5h1.39v42h-1.39zM591.14 529.5h2.71v42h-2.71zM598.11 529.5h2.71v42h-2.71zM602.05 529.5h2.87v42h-2.87zM605.33 529.5h1.64v42h-1.64zM610.26 529.5h6.81v42h-6.81zM621.99 529.5h1.15v42h-1.15zM627.9 529.5h3.28v42h-3.28zM635.69 529.5h3.69v42h-3.69z" fill="#56b3e9"/>
<path d="M411.13 529.5h2.87v42h-2.87zM413.97 529.5h1.15v42h-1.15zM475.18 529.5h2.05v42h-2.05z" fill="#56b3e9" opacity="0.7"/>
<path d="M454.26 529.5h1.64v42h-1.64zM539.89 529.5h1.97v42h-1.97z" fill="#56b3e9" opacity="0.6"/>
<path d="M354.92 529.5h1.89v42h-1.89zM402.51 529.5h1.23v42h-1.23zM405.22 529.5h1.64v42h-1.64zM472.72 529.5h1.23v42h-1.23zM489.95 529.5h2.05v42h-2.05zM528.15 529.5h1.07v42h-1.07zM530.21 529.5h1.64v42h-1.64zM567.95 529.5h2.05v42h-2.05zM619.53 529.5h0.98v42h-0.98z" fill="#56b3e9" opacity="0.5"/>
<path d="M562.04 529.5h1.81v42h-1.81z" fill="#56b3e9" opacity="0.4"/>
<path d="M354.92 537.5h2.05v26h-2.05zM391.85 537.5h1.23v26h-1.23zM399.89 537.5h1.39v26h-1.39zM405.63 537.5h1.39v26h-1.39zM427.75 537.5h1.23v26h-1.23zM452.04 537.5h0.98v26h-0.98zM465.09 537.5h1.72v26h-1.72zM480.51 537.5h1.48v26h-1.48zM496.73 537.5h1.23v26h-1.23zM500.01 537.5h2.05v26h-2.05zM510.92 537.5h2.22v26h-2.22zM514.04 537.5h2.38v26h-2.38zM548.91 537.5h1.15v26h-1.15zM550.88 537.5h1.23v26h-1.23zM581.29 537.5h1.64v26h-1.64zM584.16 537.5h2.54v26h-2.54zM606.97 537.5h1.89v26h-1.89zM622.81 537.5h1.39v26h-1.39zM632.41 537.5h1.89v26h-1.89z" fill="#9400d3"/>
<path d="M530.86 537.5h1.81v26h-1.81zM553.84 537.5h1.23v26h-1.23z" fill="#9400d3" opacity="0.9"/>
<path d="M341.79 537.5h1.23v26h-1.23zM388.15 537.5h1.64v26h-1.64zM574.15 537.5h1.64v26h-1.64zM626.5 537.5h1.39v26h-1.39z" fill="#9400d3" opacity="0.85"/>
<path d="M529.22 537.5h1.64v26h-1.64z" fill="#9400d3" opacity="0.8"/>
<path d="M476.16 537.5h1.48v26h-1.48zM545.14 537.5h2.71v26h-2.71z" fill="#9400d3" opacity="0.7"/>
<path d="M407.19 537.5h2.71v26h-2.71zM450.15 537.5h1.23v26h-1.23zM619.28 537.5h1.39v26h-1.39z" fill="#9400d3" opacity="0.6"/>
<path d="M552.52 537.5h1.07v26h-1.07zM642.26 537.5h1.23v26h-1.23z" fill="#9400d3" opacity="0.5"/>
<path d="M453.03 537.5h2.46v26h-2.46z" fill="#9400d3" opacity="0.35"/>
<path d="M341.79 546.5h1.23v8h-1.23zM354.92 546.5h2.05v8h-2.05zM388.15 546.5h1.64v8h-1.64zM391.85 546.5h1.23v8h-1.23zM399.89 546.5h1.39v8h-1.39zM405.63 546.5h1.39v8h-1.39zM407.19 546.5h2.71v8h-2.71zM427.75 546.5h1.23v8h-1.23zM450.15 546.5h1.23v8h-1.23zM452.04 546.5h0.98v8h-0.98zM453.03 546.5h2.46v8h-2.46zM465.09 546.5h1.72v8h-1.72zM476.16 546.5h1.48v8h-1.48zM480.51 546.5h1.48v8h-1.48zM496.73 546.5h1.23v8h-1.23zM500.01 546.5h2.05v8h-2.05zM510.92 546.5h2.22v8h-2.22zM514.04 546.5h2.38v8h-2.38zM529.22 546.5h1.64v8h-1.64zM530.86 546.5h1.81v8h-1.81zM545.14 546.5h2.71v8h-2.71zM548.91 546.5h1.15v8h-1.15zM550.88 546.5h1.23v8h-1.23zM552.52 546.5h1.07v8h-1.07zM553.84 546.5h1.23v8h-1.23zM574.15 546.5h1.64v8h-1.64zM581.29 546.5h1.64v8h-1.64zM584.16 546.5h2.54v8h-2.54zM606.97 546.5h1.89v8h-1.89zM619.28 546.5h1.39v8h-1.39zM622.81 546.5h1.39v8h-1.39zM626.5 546.5h1.39v8h-1.39zM632.41 546.5h1.89v8h-1.89zM642.26 546.5h1.23v8h-1.23z" fill="#e79f00" opacity="0.28"/>
<rect x="335.4" y="550.22" width="308.2" height="0.56" fill="#e79f00" opacity="0.8"/>
<rect x="335.4" y="529.5" width="308.2" height="42" fill="none" stroke="#5a5a5a" stroke-width="0.9"/>
<text x="393" y="580">200</text>
<text x="449.6" y="580">400</text>
<text x="506.2" y="580">600</text>
<text x="562.8" y="580">800</text>
<text x="619.4" y="580">1000</text>
</g>
<g>
<rect x="667" y="529.5" width="306.5" height="41.1" fill="#fff"/>
<rect x="718.9" y="529.5" width="0.6" height="1.4" fill="#777"/><rect x="718.9" y="569" width="0.6" height="1.4" fill="#777"/>
<rect x="771.8" y="529.5" width="0.6" height="1.4" fill="#777"/><rect x="771.8" y="569" width="0.6" height="1.4" fill="#777"/>
<rect x="824.7" y="529.5" width="0.6" height="1.4" fill="#777"/><rect x="824.7" y="569" width="0.6" height="1.4" fill="#777"/>
<rect x="877.6" y="529.5" width="0.6" height="1.4" fill="#777"/><rect x="877.6" y="569" width="0.6" height="1.4" fill="#777"/>
<rect x="930.5" y="529.5" width="0.6" height="1.4" fill="#777"/><rect x="930.5" y="569" width="0.6" height="1.4" fill="#777"/>
<rect x="667.6" y="546.05" width="305.3" height="8" fill="#e79f00"/>
<path d="M667.3 529.5h4.1v41.1h-4.1zM680.18 529.5h3.69v41.1h-3.69zM685.1 529.5h1.64v41.1h-1.64zM691.26 529.5h3.45v41.1h-3.45zM696.18 529.5h4.68v41.1h-4.68zM704.79 529.5h1.23v41.1h-1.23zM715.05 529.5h2.87v41.1h-2.87zM719.81 529.5h6.32v41.1h-6.32zM726.54 529.5h3.28v41.1h-3.28zM731.3 529.5h3.45v41.1h-3.45zM737.04 529.5h1.39v41.1h-1.39zM740.9 529.5h3.28v41.1h-3.28zM752.03 529.5h3.94v41.1h-3.94zM758.02 529.5h6.97v41.1h-6.97zM768.03 529.5h1.89v41.1h-1.89zM772.95 529.5h11.08v41.1h-11.08zM789.36 529.5h2.46v41.1h-2.46zM793.05 529.5h2.05v41.1h-2.05zM801.26 529.5h4.51v41.1h-4.51zM807.82 529.5h5.74v41.1h-5.74zM819.31 529.5h1.72v41.1h-1.72zM821 529.5h2.46v41.1h-2.46zM827.15 529.5h4.92v41.1h-4.92zM838.23 529.5h6.56v41.1h-6.56zM850.95 529.5h10.09v41.1h-10.09zM869 529.5h3.86v41.1h-3.86zM874.17 529.5h1.64v41.1h-1.64zM888.45 529.5h2.71v41.1h-2.71zM893.21 529.5h1.23v41.1h-1.23zM896.9 529.5h2.87v41.1h-2.87zM901.4 529.5h2.22v41.1h-2.22zM909.11 529.5h2.13v41.1h-2.13zM913.71 529.5h0.98v41.1h-0.98zM915.1 529.5h2.05v41.1h-2.05zM923.31 529.5h1.89v41.1h-1.89zM929.3 529.5h2.63v41.1h-2.63zM934.22 529.5h3.04v41.1h-3.04zM942.43 529.5h6.32v41.1h-6.32zM953.09 529.5h1.81v41.1h-1.81zM957.19 529.5h4.43v41.1h-4.43zM966.22 529.5h3.86v41.1h-3.86z" fill="#56b3e9"/>
<path d="M755.96 529.5h2.05v41.1h-2.05z" fill="#56b3e9" opacity="0.7"/>
<path d="M792.23 529.5h0.82v41.1h-0.82zM872.86 529.5h1.31v41.1h-1.31z" fill="#56b3e9" opacity="0.6"/>
<path d="M683.87 529.5h1.23v41.1h-1.23zM710.95 529.5h0.98v41.1h-0.98zM717.92 529.5h1.64v41.1h-1.64zM867.11 529.5h1.64v41.1h-1.64zM895.09 529.5h1.81v41.1h-1.81zM899.77 529.5h1.23v41.1h-1.23zM907.31 529.5h1.64v41.1h-1.64zM911.82 529.5h1.23v41.1h-1.23zM937.5 529.5h1.39v41.1h-1.39zM950.14 529.5h0.82v41.1h-0.82z" fill="#56b3e9" opacity="0.5"/>
<path d="M706.03 529.5h2.87v41.1h-2.87z" fill="#56b3e9" opacity="0.4"/>
<path d="M748.58 529.5h1.39v41.1h-1.39zM938.9 529.5h0.82v41.1h-0.82z" fill="#56b3e9" opacity="0.3"/>
<path d="M671.56 537.05h1.48v26h-1.48zM686.74 537.05h1.23v26h-1.23zM706.85 537.05h1.23v26h-1.23zM743.98 537.05h2.46v26h-2.46zM746.69 537.05h1.39v26h-1.39zM785.5 537.05h1.64v26h-1.64zM825.76 537.05h1.15v26h-1.15zM831.83 537.05h1.31v26h-1.31zM834.95 537.05h1.89v26h-1.89zM845.21 537.05h2.46v26h-2.46zM848.9 537.05h1.81v26h-1.81zM878.68 537.05h1.23v26h-1.23zM880.9 537.05h1.23v26h-1.23zM882.7 537.05h1.48v26h-1.48zM886.23 537.05h1.89v26h-1.89zM916.74 537.05h1.23v26h-1.23zM939.31 537.05h1.64v26h-1.64zM950.79 537.05h1.48v26h-1.48zM954.08 537.05h1.81v26h-1.81zM963.1 537.05h2.05v26h-2.05zM972.13 537.05h1.23v26h-1.23z" fill="#9400d3"/>
<path d="M799.45 537.05h1.64v26h-1.64zM823.87 537.05h1.23v26h-1.23zM921.26 537.05h1.81v26h-1.81z" fill="#9400d3" opacity="0.9"/>
<path d="M814.22 537.05h1.81v26h-1.81zM861.62 537.05h3.28v26h-3.28z" fill="#9400d3" opacity="0.85"/>
<path d="M764.99 537.05h0.98v26h-0.98zM769.91 537.05h0.98v26h-0.98zM877.04 537.05h0.98v26h-0.98zM906.73 537.05h1.23v26h-1.23z" fill="#9400d3" opacity="0.8"/>
<path d="M688.14 537.05h1.64v26h-1.64z" fill="#9400d3" opacity="0.75"/>
<path d="M674.03 537.05h1.89v26h-1.89zM729.98 537.05h1.48v26h-1.48zM866.54 537.05h1.39v26h-1.39z" fill="#9400d3" opacity="0.7"/>
<path d="M748.74 537.05h1.23v26h-1.23z" fill="#9400d3" opacity="0.6"/>
<path d="M710.95 537.05h0.98v26h-0.98z" fill="#9400d3" opacity="0.5"/>
<path d="M833.31 537.05h1.64v26h-1.64z" fill="#9400d3" opacity="0.3"/>
<path d="M671.56 546.05h1.48v8h-1.48zM674.03 546.05h1.89v8h-1.89zM686.74 546.05h1.23v8h-1.23zM688.14 546.05h1.64v8h-1.64zM706.85 546.05h1.23v8h-1.23zM710.95 546.05h0.98v8h-0.98zM729.98 546.05h1.48v8h-1.48zM743.98 546.05h2.46v8h-2.46zM746.69 546.05h1.39v8h-1.39zM748.74 546.05h1.23v8h-1.23zM764.99 546.05h0.98v8h-0.98zM769.91 546.05h0.98v8h-0.98zM785.5 546.05h1.64v8h-1.64zM799.45 546.05h1.64v8h-1.64zM814.22 546.05h1.81v8h-1.81zM823.87 546.05h1.23v8h-1.23zM825.76 546.05h1.15v8h-1.15zM831.83 546.05h1.31v8h-1.31zM833.31 546.05h1.64v8h-1.64zM834.95 546.05h1.89v8h-1.89zM845.21 546.05h2.46v8h-2.46zM848.9 546.05h1.81v8h-1.81zM861.62 546.05h3.28v8h-3.28zM866.54 546.05h1.39v8h-1.39zM877.04 546.05h0.98v8h-0.98zM878.68 546.05h1.23v8h-1.23zM880.9 546.05h1.23v8h-1.23zM882.7 546.05h1.48v8h-1.48zM886.23 546.05h1.89v8h-1.89zM906.73 546.05h1.23v8h-1.23zM916.74 546.05h1.23v8h-1.23zM921.26 546.05h1.81v8h-1.81zM939.31 546.05h1.64v8h-1.64zM950.79 546.05h1.48v8h-1.48zM954.08 546.05h1.81v8h-1.81zM963.1 546.05h2.05v8h-2.05zM972.13 546.05h1.23v8h-1.23z" fill="#e79f00" opacity="0.28"/>
<rect x="667" y="550.22" width="306.5" height="0.56" fill="#e79f00" opacity="0.8"/>
<rect x="667" y="529.5" width="306.5" height="41.1" fill="none" stroke="#5a5a5a" stroke-width="0.9"/>
<text x="720.4" y="580">200</text>
<text x="773.3" y="580">400</text>
<text x="826.2" y="580">600</text>
<text x="879.1" y="580">800</text>
<text x="932" y="580">1000</text>
</g>
<g>
<rect x="167.6" y="626.3" width="308.1" height="41.3" fill="#fff"/>
<rect x="223.7" y="626.3" width="0.6" height="1.4" fill="#777"/><rect x="223.7" y="666" width="0.6" height="1.4" fill="#777"/>
<rect x="280.1" y="626.3" width="0.6" height="1.4" fill="#777"/><rect x="280.1" y="666" width="0.6" height="1.4" fill="#777"/>
<rect x="336.5" y="626.3" width="0.6" height="1.4" fill="#777"/><rect x="336.5" y="666" width="0.6" height="1.4" fill="#777"/>
<rect x="392.9" y="626.3" width="0.6" height="1.4" fill="#777"/><rect x="392.9" y="666" width="0.6" height="1.4" fill="#777"/>
<rect x="449.3" y="626.3" width="0.6" height="1.4" fill="#777"/><rect x="449.3" y="666" width="0.6" height="1.4" fill="#777"/>
<rect x="168.2" y="642.95" width="306.9" height="8" fill="#e79f00"/>
<path d="M170.1 626.3h3.86v41.3h-3.86zM178.72 626.3h8.62v41.3h-8.62zM189.14 626.3h2.95v41.3h-2.95zM193.08 626.3h2.63v41.3h-2.63zM197.18 626.3h2.3v41.3h-2.3zM202.1 626.3h0.82v41.3h-0.82zM208.67 626.3h3.69v41.3h-3.69zM214 626.3h4.92v41.3h-4.92zM226.31 626.3h4.92v41.3h-4.92zM232.05 626.3h2.05v41.3h-2.05zM236.15 626.3h1.89v41.3h-1.89zM247.12 626.3h5.74v41.3h-5.74zM254.01 626.3h2.13v41.3h-2.13zM258.61 626.3h2.22v41.3h-2.22zM264.92 626.3h2.46v41.3h-2.46zM270.09 626.3h11.82v41.3h-11.82zM287.08 626.3h2.71v41.3h-2.71zM301.03 626.3h4.1v41.3h-4.1zM307.18 626.3h2.87v41.3h-2.87zM311.12 626.3h1.15v41.3h-1.15zM319.9 626.3h4.1v41.3h-4.1zM322 626.3h0.98v41.3h-0.98zM325.12 626.3h5.09v41.3h-5.09zM335.78 626.3h6.07v41.3h-6.07zM348.42 626.3h8.45v41.3h-8.45zM357.94 626.3h1.97v41.3h-1.97zM362.04 626.3h0.82v41.3h-0.82zM367.13 626.3h4.76v41.3h-4.76zM373.69 626.3h1.48v41.3h-1.48zM388.05 626.3h2.71v41.3h-2.71zM395.85 626.3h2.87v41.3h-2.87zM399.95 626.3h2.05v41.3h-2.05zM400 626.3h2.63v41.3h-2.63zM407.79 626.3h2.46v41.3h-2.46zM414.11 626.3h1.89v41.3h-1.89zM423.14 626.3h2.46v41.3h-2.46zM429.54 626.3h2.63v41.3h-2.63zM434.05 626.3h2.87v41.3h-2.87zM437.91 626.3h1.89v41.3h-1.89zM442.26 626.3h7.63v41.3h-7.63zM453.74 626.3h1.07v41.3h-1.07zM459.9 626.3h3.12v41.3h-3.12zM467.94 626.3h3.86v41.3h-3.86zM474.26 626.3h1.39v41.3h-1.39z" fill="#56b3e9"/>
<path d="M192.09 626.3h0.98v41.3h-0.98zM202.92 626.3h1.81v41.3h-1.81zM223.44 626.3h0.82v41.3h-0.82zM238.21 626.3h1.64v41.3h-1.64zM244 626.3h0.98v41.3h-0.98zM245.23 626.3h1.64v41.3h-1.64zM252.86 626.3h0.98v41.3h-0.98zM310.05 626.3h0.82v41.3h-0.82zM392.4 626.3h1.39v41.3h-1.39zM406.4 626.3h1.39v41.3h-1.39zM437.09 626.3h0.82v41.3h-0.82zM458.67 626.3h1.23v41.3h-1.23z" fill="#56b3e9" opacity="0.5"/>
<path d="M450.05 626.3h1.64v41.3h-1.64z" fill="#56b3e9" opacity="0.3"/>
<path d="M167.81 633.95h1.48v26h-1.48zM221.96 633.95h1.48v26h-1.48zM233.69 633.95h1.23v26h-1.23zM239.27 633.95h1.81v26h-1.81zM260.82 633.95h1.89v26h-1.89zM266.97 633.95h1.48v26h-1.48zM285.85 633.95h1.07v26h-1.07zM298.32 633.95h1.89v26h-1.89zM309.48 633.95h1.64v26h-1.64zM313.74 633.95h1.64v26h-1.64zM342.51 633.95h2.3v26h-2.3zM345.96 633.95h2.3v26h-2.3zM382.88 633.95h1.48v26h-1.48zM405.33 633.95h1.64v26h-1.64zM416 633.95h1.89v26h-1.89zM438.97 633.95h1.81v26h-1.81zM450.87 633.95h1.07v26h-1.07zM454.81 633.95h1.81v26h-1.81zM458.09 633.95h1.81v26h-1.81zM464.25 633.95h1.64v26h-1.64z" fill="#9400d3"/>
<path d="M384.77 633.95h2.05v26h-2.05z" fill="#9400d3" opacity="0.85"/>
<path d="M174.86 633.95h1.39v26h-1.39zM225.24 633.95h1.48v26h-1.48zM283.55 633.95h1.31v26h-1.31zM413.13 633.95h1.23v26h-1.23z" fill="#9400d3" opacity="0.8"/>
<path d="M330.62 633.95h3.28v26h-3.28z" fill="#9400d3" opacity="0.75"/>
<path d="M176.5 633.95h1.39v26h-1.39zM360.97 633.95h3.28v26h-3.28zM381.08 633.95h1.23v26h-1.23z" fill="#9400d3" opacity="0.7"/>
<path d="M376.56 633.95h3.28v26h-3.28z" fill="#9400d3" opacity="0.65"/>
<path d="M241.9 633.95h1.89v26h-1.89zM473.85 633.95h1.23v26h-1.23z" fill="#9400d3" opacity="0.6"/>
<path d="M202.51 633.95h1.39v26h-1.39z" fill="#9400d3" opacity="0.5"/>
<path d="M425.6 633.95h1.07v26h-1.07z" fill="#9400d3" opacity="0.4"/>
<path d="M167.81 642.95h1.48v8h-1.48zM174.86 642.95h1.39v8h-1.39zM176.5 642.95h1.39v8h-1.39zM202.51 642.95h1.39v8h-1.39zM221.96 642.95h1.48v8h-1.48zM225.24 642.95h1.48v8h-1.48zM233.69 642.95h1.23v8h-1.23zM239.27 642.95h1.81v8h-1.81zM241.9 642.95h1.89v8h-1.89zM260.82 642.95h1.89v8h-1.89zM266.97 642.95h1.48v8h-1.48zM283.55 642.95h1.31v8h-1.31zM285.85 642.95h1.07v8h-1.07zM298.32 642.95h1.89v8h-1.89zM309.48 642.95h1.64v8h-1.64zM313.74 642.95h1.64v8h-1.64zM330.62 642.95h3.28v8h-3.28zM342.51 642.95h2.3v8h-2.3zM345.96 642.95h2.3v8h-2.3zM360.97 642.95h3.28v8h-3.28zM376.56 642.95h3.28v8h-3.28zM381.08 642.95h1.23v8h-1.23zM382.88 642.95h1.48v8h-1.48zM384.77 642.95h2.05v8h-2.05zM405.33 642.95h1.64v8h-1.64zM413.13 642.95h1.23v8h-1.23zM416 642.95h1.89v8h-1.89zM425.6 642.95h1.07v8h-1.07zM438.97 642.95h1.81v8h-1.81zM450.87 642.95h1.07v8h-1.07zM454.81 642.95h1.81v8h-1.81zM458.09 642.95h1.81v8h-1.81zM464.25 642.95h1.64v8h-1.64zM473.85 642.95h1.23v8h-1.23z" fill="#e79f00" opacity="0.28"/>
<rect x="167.6" y="646.22" width="308.1" height="0.56" fill="#e79f00" opacity="0.8"/>
<rect x="167.6" y="626.3" width="308.1" height="41.3" fill="none" stroke="#5a5a5a" stroke-width="0.9"/>
<text x="225.2" y="676.3">200</text>
<text x="281.6" y="676.3">400</text>
<text x="338" y="676.3">600</text>
<text x="394.4" y="676.3">800</text>
<text x="450.8" y="676.3">1000</text>
</g>
<g>
<rect x="500.1" y="626.3" width="307.3" height="41.3" fill="#fff"/>
<rect x="551.9" y="626.3" width="0.6" height="1.4" fill="#777"/><rect x="551.9" y="666" width="0.6" height="1.4" fill="#777"/>
<rect x="604.6" y="626.3" width="0.6" height="1.4" fill="#777"/><rect x="604.6" y="666" width="0.6" height="1.4" fill="#777"/>
<rect x="657.3" y="626.3" width="0.6" height="1.4" fill="#777"/><rect x="657.3" y="666" width="0.6" height="1.4" fill="#777"/>
<rect x="710" y="626.3" width="0.6" height="1.4" fill="#777"/><rect x="710" y="666" width="0.6" height="1.4" fill="#777"/>
<rect x="762.7" y="626.3" width="0.6" height="1.4" fill="#777"/><rect x="762.7" y="666" width="0.6" height="1.4" fill="#777"/>
<rect x="500.7" y="642.95" width="306.1" height="8" fill="#e79f00"/>
<path d="M500.3 626.3h5.5v41.3h-5.5zM513.18 626.3h3.53v41.3h-3.53zM518.1 626.3h3.04v41.3h-3.04zM524.26 626.3h10.67v41.3h-10.67zM538.04 626.3h1.97v41.3h-1.97zM544.11 626.3h1.89v41.3h-1.89zM548.87 626.3h3.12v41.3h-3.12zM554.21 626.3h4.92v41.3h-4.92zM565.69 626.3h3.86v41.3h-3.86zM571.19 626.3h2.71v41.3h-2.71zM575.78 626.3h2.22v41.3h-2.22zM576 626.3h0.98v41.3h-0.98zM583.22 626.3h0.98v41.3h-0.98zM586.5 626.3h7.38v41.3h-7.38zM596.1 626.3h2.87v41.3h-2.87zM602.26 626.3h1.81v41.3h-1.81zM606.19 626.3h11.82v41.3h-11.82zM623.59 626.3h2.05v41.3h-2.05zM637.95 626.3h1.89v41.3h-1.89zM642.05 626.3h5.74v41.3h-5.74zM654.36 626.3h1.64v41.3h-1.64zM655.97 626.3h1.72v41.3h-1.72zM661.22 626.3h4.68v41.3h-4.68zM672.71 626.3h6.07v41.3h-6.07zM685.84 626.3h8.78v41.3h-8.78zM701.18 626.3h4.68v41.3h-4.68zM707.99 626.3h1.81v41.3h-1.81zM723.09 626.3h2.3v41.3h-2.3zM727.19 626.3h1.64v41.3h-1.64zM730.96 626.3h3.04v41.3h-3.04zM735.12 626.3h2.63v41.3h-2.63zM742.5 626.3h2.46v41.3h-2.46zM747.18 626.3h4.51v41.3h-4.51zM757.27 626.3h1.64v41.3h-1.64zM763.02 626.3h2.22v41.3h-2.22zM768.1 626.3h1.81v41.3h-1.81zM771.22 626.3h1.81v41.3h-1.81zM776.14 626.3h5.5v41.3h-5.5zM786.15 626.3h2.3v41.3h-2.3zM791.08 626.3h3.94v41.3h-3.94zM800.1 626.3h3.69v41.3h-3.69z" fill="#56b3e9"/>
<path d="M510.14 626.3h1.64v41.3h-1.64zM562 626.3h1.23v41.3h-1.23zM622.11 626.3h1.48v41.3h-1.48z" fill="#56b3e9" opacity="0.8"/>
<path d="M635.24 626.3h2.71v41.3h-2.71z" fill="#56b3e9" opacity="0.6"/>
<path d="M573.9 626.3h1.64v41.3h-1.64zM626.22 626.3h1.07v41.3h-1.07zM648.04 626.3h1.39v41.3h-1.39zM706.1 626.3h1.64v41.3h-1.64zM729.08 626.3h1.64v41.3h-1.64zM745.29 626.3h1.48v41.3h-1.48zM755.14 626.3h0.82v41.3h-0.82zM784.51 626.3h0.82v41.3h-0.82z" fill="#56b3e9" opacity="0.5"/>
<path d="M540.26 626.3h1.07v41.3h-1.07z" fill="#56b3e9" opacity="0.4"/>
<path d="M627.28 626.3h1.64v41.3h-1.64z" fill="#56b3e9" opacity="0.3"/>
<path d="M507.19 633.95h1.89v26h-1.89zM520.97 633.95h1.81v26h-1.81zM558.14 633.95h1.56v26h-1.56zM564.3 633.95h1.64v26h-1.64zM578.05 633.95h1.64v26h-1.64zM580.92 633.95h1.81v26h-1.81zM604.06 633.95h1.07v26h-1.07zM623.59 633.95h1.48v26h-1.48zM633.68 633.95h1.23v26h-1.23zM648.86 633.95h1.23v26h-1.23zM666.14 633.95h1.23v26h-1.23zM669.18 633.95h2.46v26h-2.46zM679.85 633.95h2.05v26h-2.05zM683.13 633.95h1.89v26h-1.89zM712.91 633.95h1.15v26h-1.15zM717.02 633.95h1.23v26h-1.23zM720.05 633.95h1.89v26h-1.89zM750.71 633.95h1.23v26h-1.23zM773.03 633.95h1.81v26h-1.81zM796.82 633.95h1.23v26h-1.23zM805.44 633.95h1.64v26h-1.64z" fill="#9400d3"/>
<path d="M504.97 633.95h1.07v26h-1.07zM540.83 633.95h1.48v26h-1.48zM599.14 633.95h1.23v26h-1.23zM619.9 633.95h1.39v26h-1.39zM788.04 633.95h1.23v26h-1.23zM794.77 633.95h1.23v26h-1.23z" fill="#9400d3" opacity="0.9"/>
<path d="M561.59 633.95h1.23v26h-1.23zM755.14 633.95h1.31v26h-1.31z" fill="#9400d3" opacity="0.85"/>
<path d="M644.76 633.95h1.15v26h-1.15zM694.04 633.95h0.98v26h-0.98zM711.27 633.95h1.39v26h-1.39z" fill="#9400d3" opacity="0.8"/>
<path d="M715.13 633.95h1.64v26h-1.64zM740.86 633.95h1.15v26h-1.15z" fill="#9400d3" opacity="0.7"/>
<path d="M516.71 633.95h1.39v26h-1.39z" fill="#9400d3" opacity="0.6"/>
<path d="M696.01 633.95h2.71v26h-2.71z" fill="#9400d3" opacity="0.55"/>
<path d="M781.07 633.95h0.66v26h-0.66z" fill="#9400d3" opacity="0.5"/>
<path d="M758.91 633.95h0.82v26h-0.82z" fill="#9400d3" opacity="0.4"/>
<path d="M667.54 633.95h1.39v26h-1.39z" fill="#9400d3" opacity="0.3"/>
<path d="M504.97 642.95h1.07v8h-1.07zM507.19 642.95h1.89v8h-1.89zM516.71 642.95h1.39v8h-1.39zM520.97 642.95h1.81v8h-1.81zM540.83 642.95h1.48v8h-1.48zM558.14 642.95h1.56v8h-1.56zM561.59 642.95h1.23v8h-1.23zM564.3 642.95h1.64v8h-1.64zM578.05 642.95h1.64v8h-1.64zM580.92 642.95h1.81v8h-1.81zM599.14 642.95h1.23v8h-1.23zM604.06 642.95h1.07v8h-1.07zM619.9 642.95h1.39v8h-1.39zM623.59 642.95h1.48v8h-1.48zM633.68 642.95h1.23v8h-1.23zM644.76 642.95h1.15v8h-1.15zM648.86 642.95h1.23v8h-1.23zM666.14 642.95h1.23v8h-1.23zM667.54 642.95h1.39v8h-1.39zM669.18 642.95h2.46v8h-2.46zM679.85 642.95h2.05v8h-2.05zM683.13 642.95h1.89v8h-1.89zM694.04 642.95h0.98v8h-0.98zM696.01 642.95h2.71v8h-2.71zM711.27 642.95h1.39v8h-1.39zM712.91 642.95h1.15v8h-1.15zM715.13 642.95h1.64v8h-1.64zM717.02 642.95h1.23v8h-1.23zM720.05 642.95h1.89v8h-1.89zM740.86 642.95h1.15v8h-1.15zM750.71 642.95h1.23v8h-1.23zM755.14 642.95h1.31v8h-1.31zM758.91 642.95h0.82v8h-0.82zM773.03 642.95h1.81v8h-1.81zM781.07 642.95h0.66v8h-0.66zM788.04 642.95h1.23v8h-1.23zM794.77 642.95h1.23v8h-1.23zM796.82 642.95h1.23v8h-1.23zM805.44 642.95h1.64v8h-1.64z" fill="#e79f00" opacity="0.28"/>
<rect x="500.1" y="646.22" width="307.3" height="0.56" fill="#e79f00" opacity="0.8"/>
<rect x="500.1" y="626.3" width="307.3" height="41.3" fill="none" stroke="#5a5a5a" stroke-width="0.9"/>
<text x="553.4" y="676.3">200</text>
<text x="606.1" y="676.3">400</text>
<text x="658.8" y="676.3">600</text>
<text x="711.5" y="676.3">800</text>
<text x="764.2" y="676.3">1000</text>
</g>
</g>
</svg>
<div class="t title" style="left:487px;top:-4px;">2D Structure prediction of human rotavirus strains</div>
<div class="t h" style="left:487.4px;top:42.1px;">VP4</div>
<div class="t l" style="left:156.6px;top:145px;">Strain-C(UK)</div>
<div class="t l" style="left:489px;top:145px;">Strain-A</div>
<div class="t l" style="left:820.2px;top:145px;">Strain-B</div>
<div class="t l" style="left:321.5px;top:242px;">Strain-C</div>
<div class="t l" style="left:654px;top:242px;">Strain-X(H)</div>
<div class="t h7" style="left:487px;top:262.9px;">VP7</div>
<div class="t l" style="left:156.2px;top:365.4px;">Strain-C(UK)</div>
<div class="t l" style="left:488.6px;top:365.4px;">Strain-A</div>
<div class="t l" style="left:820px;top:365.4px;">Strain-B</div>
<div class="t l" style="left:321.6px;top:462.4px;">Strain-C</div>
<div class="t l" style="left:653.6px;top:462.4px;">Strain-X(UK)</div>
<div class="t h2" style="left:500.2px;top:493px;">RNA-Directed RNA Polymerase</div>
<div class="t l" style="left:145.5px;top:589px;">Strain-C(UK)</div>
<div class="t l" style="left:478px;top:589px;">Strain-A</div>
<div class="t l" style="left:809.2px;top:589px;">Strain-B</div>
<div class="t l" style="left:321.3px;top:683px;">Strain-C</div>
<div class="t l" style="left:654px;top:683px;">Strain-X(H)</div>

</body></html>
